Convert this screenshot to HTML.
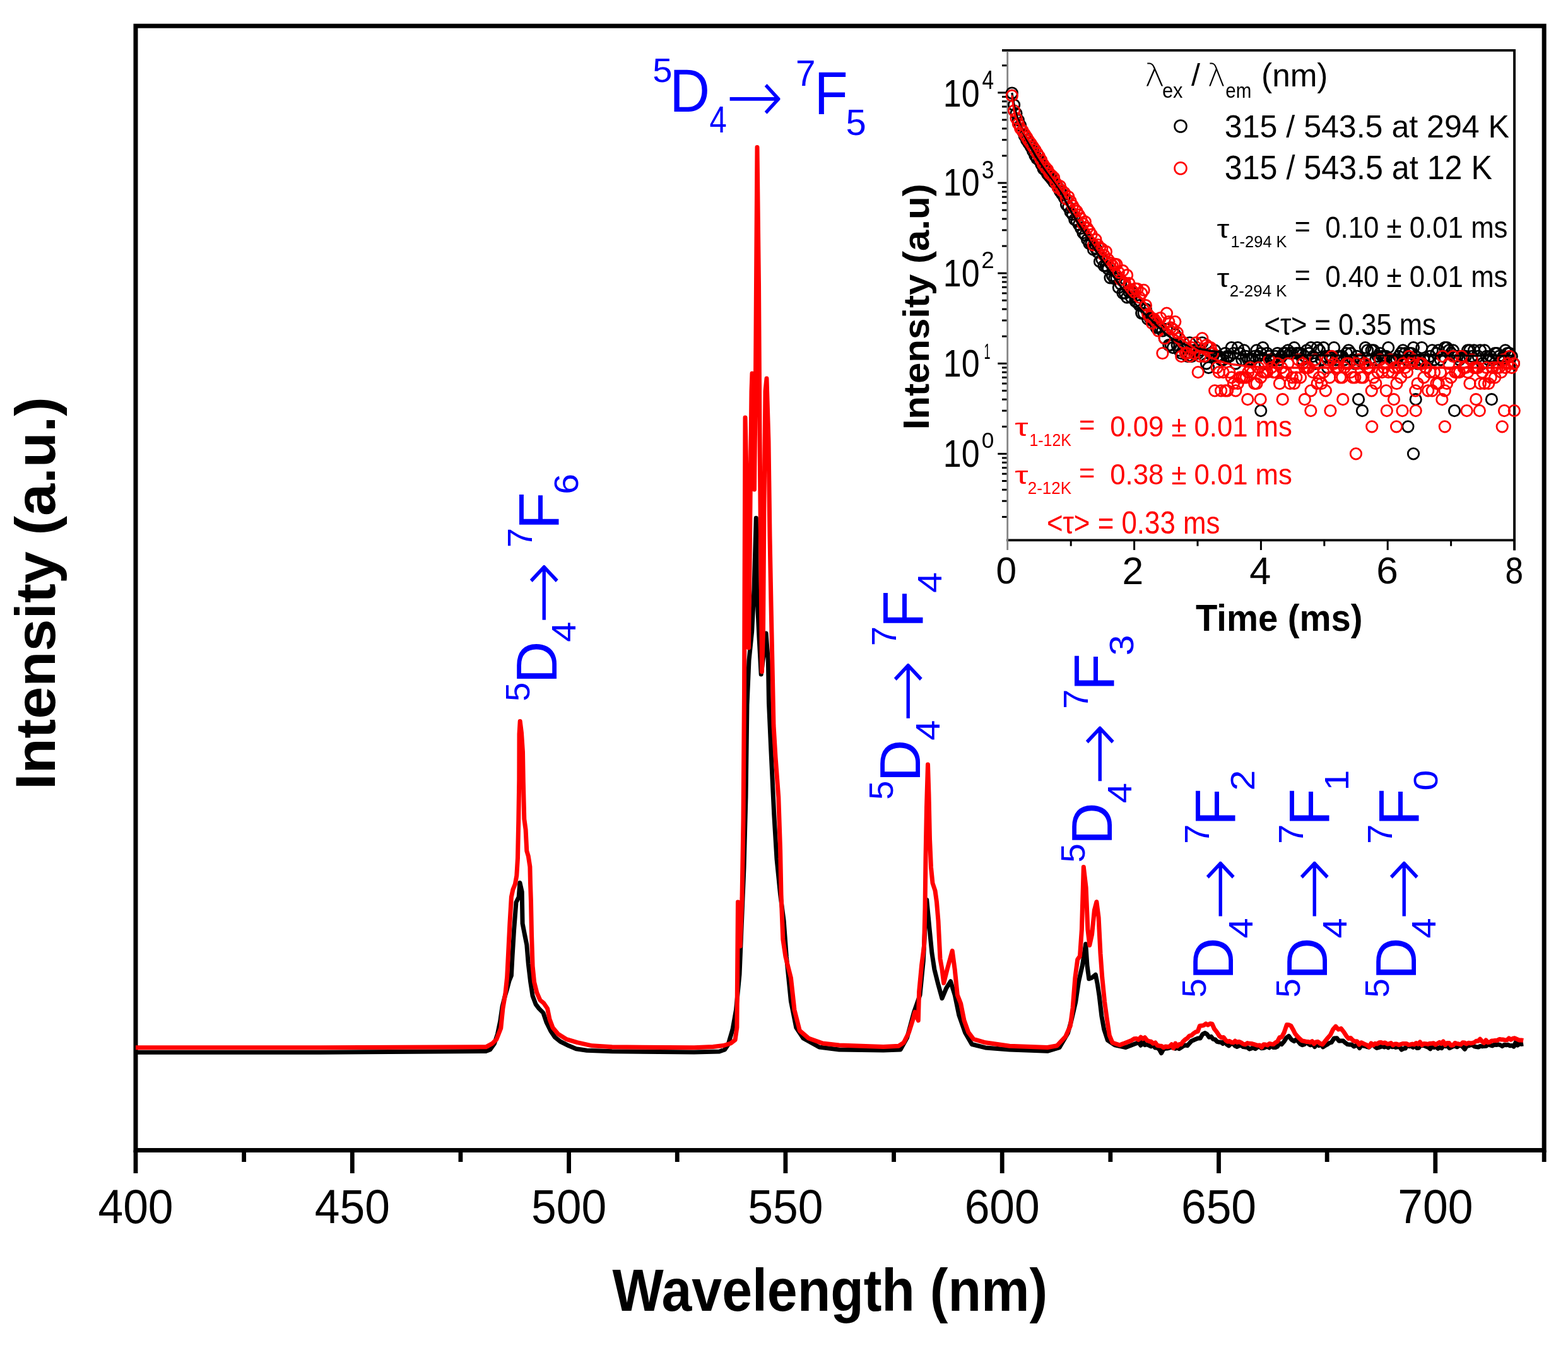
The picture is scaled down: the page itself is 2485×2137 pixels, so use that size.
<!DOCTYPE html>
<html><head><meta charset="utf-8"><title>Emission spectra</title>
<style>html,body{margin:0;padding:0;background:#fff;overflow:hidden}svg{display:block}</style>
</head><body>
<svg width="2485" height="2137" viewBox="0 0 2485 2137"><rect width="100%" height="100%" fill="#fff"/><rect x="215.0" y="41.15" width="2232.15" height="1782.35" fill="none" stroke="#000" stroke-width="7"/>
<line x1="215.00" y1="1823.5" x2="215.00" y2="1860" stroke="#000" stroke-width="6.8"/>
<line x1="386.65" y1="1823.5" x2="386.65" y2="1842" stroke="#000" stroke-width="6.8"/>
<line x1="558.30" y1="1823.5" x2="558.30" y2="1860" stroke="#000" stroke-width="6.8"/>
<line x1="729.95" y1="1823.5" x2="729.95" y2="1842" stroke="#000" stroke-width="6.8"/>
<line x1="901.60" y1="1823.5" x2="901.60" y2="1860" stroke="#000" stroke-width="6.8"/>
<line x1="1073.25" y1="1823.5" x2="1073.25" y2="1842" stroke="#000" stroke-width="6.8"/>
<line x1="1244.90" y1="1823.5" x2="1244.90" y2="1860" stroke="#000" stroke-width="6.8"/>
<line x1="1416.55" y1="1823.5" x2="1416.55" y2="1842" stroke="#000" stroke-width="6.8"/>
<line x1="1588.20" y1="1823.5" x2="1588.20" y2="1860" stroke="#000" stroke-width="6.8"/>
<line x1="1759.85" y1="1823.5" x2="1759.85" y2="1842" stroke="#000" stroke-width="6.8"/>
<line x1="1931.50" y1="1823.5" x2="1931.50" y2="1860" stroke="#000" stroke-width="6.8"/>
<line x1="2103.15" y1="1823.5" x2="2103.15" y2="1842" stroke="#000" stroke-width="6.8"/>
<line x1="2274.80" y1="1823.5" x2="2274.80" y2="1860" stroke="#000" stroke-width="6.8"/>
<line x1="2447.15" y1="1823.5" x2="2447.15" y2="1842" stroke="#000" stroke-width="6.8"/>
<text transform="translate(155.45 1938.70) scale(0.7140 0.7540)" font-family="'Liberation Sans', Arial, Helvetica, sans-serif" font-size="100" fill="#000">400</text>
<text transform="translate(498.75 1938.70) scale(0.7140 0.7540)" font-family="'Liberation Sans', Arial, Helvetica, sans-serif" font-size="100" fill="#000">450</text>
<text transform="translate(842.05 1938.70) scale(0.7140 0.7540)" font-family="'Liberation Sans', Arial, Helvetica, sans-serif" font-size="100" fill="#000">500</text>
<text transform="translate(1185.35 1938.70) scale(0.7140 0.7540)" font-family="'Liberation Sans', Arial, Helvetica, sans-serif" font-size="100" fill="#000">550</text>
<text transform="translate(1528.65 1938.70) scale(0.7140 0.7540)" font-family="'Liberation Sans', Arial, Helvetica, sans-serif" font-size="100" fill="#000">600</text>
<text transform="translate(1871.95 1938.70) scale(0.7140 0.7540)" font-family="'Liberation Sans', Arial, Helvetica, sans-serif" font-size="100" fill="#000">650</text>
<text transform="translate(2215.25 1938.70) scale(0.7140 0.7540)" font-family="'Liberation Sans', Arial, Helvetica, sans-serif" font-size="100" fill="#000">700</text>
<text transform="translate(970.53 2077.50) scale(0.8601 0.9506)" font-family="'Liberation Sans', Arial, Helvetica, sans-serif" font-weight="700" font-size="100" fill="#000">Wavelength (nm)</text>
<text transform="translate(87.10 1252.07) rotate(-90) scale(0.9193 0.8939)" font-family="'Liberation Sans', Arial, Helvetica, sans-serif" font-weight="700" font-size="100" fill="#000">Intensity (a.u.)</text>
<path d="M215.0 1668.3 L500.0 1668.3 L770.0 1666.5 L776.7 1664.0 L783.5 1654.4 L788.5 1639.3 L792.7 1619.0 L796.1 1595.5 L799.5 1582.0 L803.0 1570.0 L807.0 1555.0 L810.4 1546.7 L812.1 1514.7 L814.6 1474.3 L818.0 1430.5 L822.2 1422.0 L823.9 1399.4 L827.2 1413.7 L828.1 1464.2 L831.4 1481.0 L834.8 1497.8 L837.3 1528.1 L840.7 1556.8 L844.1 1578.7 L849.1 1592.1 L854.2 1598.9 L860.9 1605.6 L866.0 1620.7 L872.7 1634.2 L879.4 1644.3 L887.8 1651.0 L901.3 1657.8 L913.1 1662.8 L929.9 1665.3 L970.0 1666.7 L1100.0 1668.0 L1140.0 1667.0 L1148.5 1664.0 L1154.0 1656.0 L1161.0 1632.0 L1166.5 1601.0 L1172.0 1545.0 L1179.0 1376.0 L1182.0 1264.0 L1184.0 1117.0 L1187.0 1047.0 L1191.6 1002.0 L1195.0 935.0 L1198.3 821.3 L1199.5 935.0 L1203.0 1010.0 L1206.2 1069.0 L1210.0 1040.0 L1214.0 1004.0 L1217.4 1047.0 L1218.5 1114.0 L1221.5 1181.0 L1226.8 1292.0 L1231.0 1362.0 L1236.6 1418.0 L1242.2 1460.0 L1246.4 1517.0 L1253.4 1587.0 L1261.8 1629.0 L1273.1 1646.0 L1298.3 1660.0 L1330.0 1664.0 L1400.0 1665.0 L1427.0 1664.0 L1437.7 1644.7 L1448.5 1604.3 L1458.0 1577.4 L1463.3 1523.5 L1466.0 1469.5 L1468.7 1426.4 L1472.8 1469.5 L1476.8 1510.0 L1480.9 1536.9 L1486.3 1558.5 L1493.0 1582.7 L1499.7 1566.6 L1506.5 1555.8 L1513.2 1577.4 L1519.9 1609.7 L1529.4 1636.7 L1540.2 1655.5 L1561.7 1660.9 L1600.0 1664.0 L1660.0 1666.3 L1679.1 1660.6 L1692.4 1637.7 L1698.2 1616.7 L1704.8 1588.1 L1709.6 1555.6 L1715.3 1530.8 L1720.7 1496.5 L1723.0 1530.8 L1725.8 1551.8 L1730.6 1549.9 L1736.3 1545.2 L1739.2 1559.5 L1742.1 1578.5 L1745.9 1611.0 L1749.7 1632.0 L1755.4 1649.2 L1766.9 1656.8 L1784.0 1660.6 L1804.6 1652.4 L1807.9 1657.2 L1811.2 1650.1 L1814.4 1656.6 L1817.7 1655.9 L1821.0 1657.3 L1824.3 1658.9 L1827.6 1656.7 L1830.8 1661.1 L1834.1 1661.1 L1837.4 1663.8 L1840.5 1669.5 L1843.7 1663.6 L1846.8 1662.3 L1849.9 1662.1 L1853.1 1661.1 L1856.2 1660.2 L1859.4 1661.1 L1862.5 1662.3 L1865.6 1660.8 L1868.8 1662.6 L1871.9 1660.6 L1875.2 1658.4 L1878.5 1656.9 L1881.8 1657.7 L1885.0 1654.0 L1888.3 1650.3 L1891.6 1649.0 L1894.9 1647.4 L1898.6 1645.9 L1902.2 1646.0 L1905.9 1639.6 L1909.6 1637.6 L1912.9 1639.6 L1916.2 1644.3 L1919.5 1643.4 L1922.8 1647.4 L1925.8 1648.0 L1928.9 1651.3 L1931.9 1652.0 L1935.0 1652.3 L1938.0 1654.5 L1941.1 1649.3 L1944.1 1655.6 L1947.4 1657.9 L1950.7 1654.9 L1953.9 1654.1 L1957.2 1658.1 L1960.5 1659.4 L1963.8 1657.8 L1967.1 1657.2 L1970.3 1659.6 L1973.6 1660.0 L1976.9 1660.6 L1980.1 1663.1 L1983.2 1661.9 L1986.4 1660.9 L1989.5 1662.6 L1992.7 1660.2 L1995.9 1658.9 L1999.0 1661.7 L2002.2 1661.6 L2005.4 1660.2 L2008.5 1659.2 L2011.7 1661.0 L2014.8 1656.1 L2018.0 1660.6 L2021.3 1660.6 L2024.5 1659.0 L2027.8 1653.9 L2031.1 1655.6 L2034.9 1651.3 L2038.8 1645.1 L2042.6 1642.5 L2046.7 1648.0 L2050.8 1650.7 L2054.1 1648.0 L2057.4 1651.0 L2060.6 1654.9 L2063.9 1656.7 L2067.2 1655.6 L2070.5 1651.9 L2073.8 1655.1 L2077.0 1656.8 L2080.3 1655.3 L2083.6 1659.5 L2086.9 1654.7 L2090.2 1657.6 L2093.4 1655.3 L2096.7 1659.9 L2100.0 1657.6 L2103.4 1655.9 L2106.7 1653.5 L2110.1 1652.5 L2114.3 1646.0 L2118.6 1645.7 L2122.0 1650.2 L2125.3 1649.9 L2128.7 1650.0 L2132.1 1653.2 L2135.5 1655.6 L2138.8 1656.0 L2142.2 1656.0 L2145.6 1659.0 L2148.6 1657.6 L2151.7 1657.6 L2154.7 1661.5 L2157.7 1656.5 L2160.7 1658.0 L2163.8 1658.5 L2166.8 1659.6 L2169.8 1660.2 L2172.8 1656.9 L2175.8 1656.1 L2178.9 1659.2 L2181.9 1661.4 L2184.9 1660.6 L2187.9 1659.7 L2191.0 1658.7 L2194.0 1659.9 L2197.0 1658.9 L2200.0 1660.8 L2203.1 1658.0 L2206.1 1659.7 L2209.1 1659.2 L2212.1 1660.4 L2215.2 1659.9 L2218.2 1659.5 L2221.2 1664.1 L2224.3 1662.2 L2227.3 1662.1 L2230.3 1655.8 L2233.4 1658.8 L2236.4 1658.3 L2239.4 1660.3 L2242.5 1655.3 L2245.5 1661.5 L2248.5 1661.2 L2251.6 1657.0 L2254.6 1657.5 L2257.6 1657.8 L2260.7 1659.3 L2263.7 1660.4 L2266.7 1662.9 L2269.8 1658.8 L2272.8 1660.6 L2275.8 1659.4 L2278.9 1662.3 L2281.9 1660.5 L2284.9 1661.6 L2288.0 1657.1 L2291.0 1658.7 L2294.0 1657.6 L2297.1 1661.7 L2300.1 1660.2 L2303.1 1658.4 L2306.2 1658.2 L2309.2 1659.8 L2312.2 1657.7 L2315.3 1657.3 L2318.3 1659.8 L2321.3 1663.3 L2324.4 1658.4 L2327.4 1657.9 L2330.4 1656.7 L2333.5 1656.4 L2336.5 1658.8 L2339.7 1659.6 L2342.8 1660.1 L2346.0 1658.4 L2349.2 1658.9 L2352.3 1658.4 L2355.5 1658.3 L2358.7 1655.2 L2361.8 1657.0 L2365.0 1657.9 L2368.2 1656.1 L2371.4 1656.6 L2374.5 1655.8 L2377.7 1656.6 L2380.9 1658.6 L2384.0 1656.2 L2387.2 1656.8 L2390.2 1656.3 L2393.2 1657.9 L2396.2 1657.4 L2399.2 1659.1 L2402.2 1652.0 L2405.2 1657.1 L2408.2 1654.5 L2411.2 1655.4 L2414.2 1655.0" fill="none" stroke="#000" stroke-width="7" stroke-linejoin="round" stroke-linecap="butt"/>
<path d="M215.0 1660.8 L500.0 1660.8 L770.0 1659.8 L780.1 1654.4 L786.8 1647.7 L793.8 1630.0 L796.9 1598.9 L801.1 1573.6 L803.7 1548.4 L805.4 1514.7 L807.9 1464.2 L810.4 1422.0 L812.9 1410.3 L816.3 1401.9 L818.8 1388.4 L820.5 1360.0 L821.8 1300.0 L822.8 1236.0 L823.0 1163.7 L824.2 1143.5 L826.5 1162.0 L828.5 1192.3 L829.3 1239.4 L830.8 1298.4 L833.1 1315.2 L834.8 1348.9 L837.3 1357.3 L839.9 1374.1 L840.5 1400.0 L841.5 1430.0 L842.5 1481.0 L844.1 1531.5 L846.6 1556.8 L850.8 1573.6 L855.9 1585.4 L861.8 1590.4 L867.6 1598.9 L871.0 1615.7 L876.1 1629.2 L884.5 1639.3 L898.0 1647.7 L914.8 1652.7 L938.4 1657.8 L970.0 1659.8 L1100.0 1660.8 L1130.0 1659.5 L1146.8 1657.5 L1158.0 1654.0 L1165.1 1648.4 L1167.9 1628.8 L1169.5 1430.0 L1173.0 1500.0 L1176.0 1424.0 L1178.0 1300.0 L1179.5 1100.0 L1180.5 800.0 L1181.0 662.0 L1183.0 750.0 L1185.0 900.0 L1186.5 1027.0 L1188.0 900.0 L1189.5 750.0 L1191.0 620.0 L1192.0 592.0 L1194.0 680.0 L1195.5 776.0 L1197.5 600.0 L1200.0 233.5 L1202.5 450.0 L1204.0 687.0 L1205.5 850.0 L1207.5 1065.0 L1209.5 1000.0 L1211.0 800.0 L1213.0 620.0 L1215.0 600.0 L1218.0 700.0 L1220.0 850.0 L1222.0 957.0 L1226.0 1150.0 L1229.0 1200.0 L1233.8 1264.0 L1236.6 1348.0 L1238.0 1418.0 L1240.8 1489.0 L1245.0 1517.0 L1253.4 1550.0 L1259.0 1601.0 L1267.4 1634.0 L1281.5 1646.0 L1303.9 1654.0 L1330.0 1657.0 L1400.0 1659.6 L1424.3 1658.2 L1432.3 1652.8 L1440.4 1636.7 L1447.2 1615.1 L1449.9 1604.3 L1455.3 1617.8 L1456.6 1572.0 L1460.6 1530.0 L1464.5 1500.0 L1466.0 1440.0 L1467.0 1360.0 L1468.5 1280.0 L1470.5 1212.0 L1472.0 1260.0 L1473.5 1330.0 L1475.5 1375.0 L1478.0 1400.0 L1482.0 1412.0 L1484.5 1430.0 L1487.0 1460.0 L1490.0 1520.0 L1493.0 1537.0 L1495.7 1558.5 L1501.1 1536.9 L1509.2 1507.3 L1513.2 1536.9 L1517.3 1577.4 L1522.6 1590.8 L1528.0 1617.8 L1534.8 1636.7 L1542.9 1647.4 L1561.7 1652.8 L1600.0 1658.2 L1660.0 1660.5 L1675.3 1657.7 L1688.6 1643.4 L1696.3 1626.3 L1700.1 1597.6 L1703.9 1549.9 L1707.7 1521.3 L1711.5 1515.6 L1714.4 1473.6 L1717.3 1374.4 L1721.1 1406.8 L1723.9 1473.6 L1726.8 1498.4 L1730.6 1481.2 L1734.4 1443.0 L1737.9 1429.7 L1741.1 1454.5 L1744.0 1511.8 L1746.8 1549.9 L1750.6 1588.1 L1754.5 1616.7 L1758.3 1641.5 L1763.1 1653.0 L1774.5 1656.8 L1793.6 1649.2 L1797.2 1646.8 L1800.8 1646.4 L1804.3 1648.3 L1807.9 1644.2 L1811.2 1646.9 L1814.5 1644.7 L1817.7 1649.1 L1821.0 1650.7 L1824.3 1651.3 L1827.6 1654.3 L1830.9 1652.9 L1834.2 1657.3 L1837.5 1658.0 L1840.7 1658.2 L1844.0 1660.8 L1847.3 1658.9 L1850.5 1659.5 L1853.8 1658.9 L1856.8 1655.8 L1859.8 1661.6 L1862.8 1654.0 L1865.9 1658.6 L1868.9 1655.6 L1871.9 1655.6 L1875.2 1650.8 L1878.4 1648.0 L1881.7 1645.8 L1885.0 1642.2 L1888.3 1641.5 L1891.6 1638.3 L1894.9 1636.0 L1898.2 1635.2 L1901.4 1626.3 L1904.7 1626.1 L1908.0 1625.3 L1911.2 1622.9 L1914.5 1624.9 L1917.8 1622.8 L1921.1 1623.3 L1924.4 1631.0 L1928.5 1636.2 L1932.6 1642.5 L1935.9 1645.1 L1939.2 1644.4 L1942.5 1649.1 L1945.5 1651.3 L1948.5 1650.5 L1951.5 1652.5 L1954.5 1652.9 L1957.5 1650.2 L1960.5 1652.4 L1963.8 1651.5 L1967.1 1653.0 L1970.3 1655.1 L1973.6 1655.8 L1976.9 1653.6 L1980.2 1654.3 L1983.5 1654.5 L1986.7 1655.3 L1990.0 1656.4 L1993.3 1657.3 L1996.4 1656.9 L1999.5 1660.4 L2002.6 1655.8 L2005.7 1656.0 L2008.7 1657.0 L2011.8 1654.4 L2014.9 1655.2 L2018.0 1655.6 L2021.3 1652.8 L2024.5 1651.2 L2027.8 1644.8 L2031.1 1644.2 L2035.2 1636.7 L2039.3 1624.5 L2042.5 1624.7 L2045.8 1626.1 L2049.1 1631.9 L2052.4 1638.5 L2055.7 1642.5 L2059.5 1646.4 L2063.4 1649.8 L2067.2 1650.7 L2070.3 1651.4 L2073.3 1651.5 L2076.4 1652.5 L2079.5 1650.7 L2082.6 1654.8 L2085.7 1651.9 L2088.7 1651.4 L2091.8 1654.0 L2095.9 1655.9 L2100.0 1650.8 L2104.2 1645.5 L2108.4 1640.7 L2112.7 1631.9 L2116.9 1627.2 L2121.1 1632.0 L2125.3 1630.5 L2129.6 1635.9 L2133.8 1642.4 L2137.2 1646.4 L2140.5 1645.5 L2143.9 1649.1 L2147.3 1651.0 L2150.7 1650.8 L2154.1 1656.0 L2157.3 1652.7 L2160.4 1654.2 L2163.6 1655.6 L2166.7 1657.0 L2169.9 1659.7 L2173.0 1653.8 L2176.2 1657.2 L2179.3 1654.3 L2182.5 1655.0 L2185.6 1652.7 L2188.8 1652.6 L2191.9 1653.7 L2195.1 1652.9 L2198.2 1654.9 L2201.4 1654.8 L2204.5 1653.6 L2207.5 1656.9 L2210.6 1655.0 L2213.7 1655.0 L2216.7 1656.6 L2219.8 1655.5 L2222.9 1654.6 L2225.9 1654.5 L2229.0 1654.4 L2232.1 1656.4 L2235.2 1655.9 L2238.2 1655.1 L2241.3 1655.9 L2244.4 1653.6 L2247.4 1655.3 L2250.5 1652.0 L2253.6 1656.7 L2256.6 1654.5 L2259.7 1654.7 L2262.8 1655.4 L2265.8 1654.3 L2268.9 1654.3 L2272.0 1653.8 L2275.0 1656.2 L2278.1 1654.3 L2281.2 1652.4 L2284.3 1654.6 L2287.3 1650.9 L2290.4 1656.5 L2293.5 1653.4 L2296.6 1653.6 L2299.6 1657.3 L2302.7 1657.1 L2305.8 1653.5 L2308.8 1654.3 L2311.9 1655.0 L2315.0 1655.9 L2318.1 1652.8 L2321.1 1653.1 L2324.2 1654.9 L2327.3 1653.2 L2330.4 1653.9 L2333.4 1653.6 L2336.5 1652.5 L2339.6 1650.3 L2342.6 1650.5 L2345.7 1647.2 L2348.8 1651.0 L2351.9 1653.4 L2354.9 1649.0 L2358.0 1652.7 L2361.1 1652.0 L2364.2 1650.0 L2367.2 1649.8 L2370.3 1649.5 L2373.3 1649.3 L2376.3 1647.4 L2379.3 1648.0 L2382.3 1648.1 L2385.3 1648.9 L2388.3 1648.8 L2391.3 1645.9 L2394.3 1648.2 L2397.3 1646.5 L2400.7 1645.8 L2404.1 1647.4 L2407.4 1648.9 L2410.8 1648.9 L2414.2 1649.5" fill="none" stroke="#f00" stroke-width="7" stroke-linejoin="round" stroke-linecap="butt"/>
<text transform="translate(1034.26 129.86) scale(0.5612 0.5387)" font-family="'Liberation Sans', Arial, Helvetica, sans-serif" font-size="100" fill="#0000ff">5</text>
<text transform="translate(1061.36 177.20) scale(0.8834 0.9593)" font-family="'Liberation Sans', Arial, Helvetica, sans-serif" font-size="100" fill="#0000ff">D</text>
<text transform="translate(1124.42 210.20) scale(0.4901 0.5858)" font-family="'Liberation Sans', Arial, Helvetica, sans-serif" font-size="100" fill="#0000ff">4</text>
<text transform="translate(1150.28 194.19) scale(1.0902 1.1866)" font-family="'DejaVu Sans', 'Liberation Sans', sans-serif" font-weight="200" font-size="100" fill="#0000ff">→</text>
<text transform="translate(1260.96 135.90) scale(0.5661 0.5727)" font-family="'Liberation Sans', Arial, Helvetica, sans-serif" font-size="100" fill="#0000ff">7</text>
<text transform="translate(1290.71 180.90) scale(0.8648 0.9608)" font-family="'Liberation Sans', Arial, Helvetica, sans-serif" font-size="100" fill="#0000ff">F</text>
<text transform="translate(1340.48 214.22) scale(0.5802 0.5788)" font-family="'Liberation Sans', Arial, Helvetica, sans-serif" font-size="100" fill="#0000ff">5</text>
<text transform="translate(838.77 1111.88) rotate(-90) scale(0.5443 0.5301)" font-family="'Liberation Sans', Arial, Helvetica, sans-serif" font-size="100" fill="#0000ff">5</text>
<text transform="translate(881.50 1083.62) rotate(-90) scale(0.9291 0.9070)" font-family="'Liberation Sans', Arial, Helvetica, sans-serif" font-size="100" fill="#0000ff">D</text>
<text transform="translate(912.30 1017.77) rotate(-90) scale(0.5794 0.5451)" font-family="'Liberation Sans', Arial, Helvetica, sans-serif" font-size="100" fill="#0000ff">4</text>
<text transform="translate(897.15 989.68) rotate(-90) scale(1.1858 1.1119)" font-family="'DejaVu Sans', 'Liberation Sans', sans-serif" font-weight="200" font-size="100" fill="#0000ff">→</text>
<text transform="translate(843.40 868.32) rotate(-90) scale(0.5617 0.5480)" font-family="'Liberation Sans', Arial, Helvetica, sans-serif" font-size="100" fill="#0000ff">7</text>
<text transform="translate(884.90 839.80) rotate(-90) scale(0.9754 0.9012)" font-family="'Liberation Sans', Arial, Helvetica, sans-serif" font-size="100" fill="#0000ff">F</text>
<text transform="translate(915.70 783.75) rotate(-90) scale(0.5899 0.5315)" font-family="'Liberation Sans', Arial, Helvetica, sans-serif" font-size="100" fill="#0000ff">6</text>
<text transform="translate(1415.37 1267.88) rotate(-90) scale(0.5443 0.5301)" font-family="'Liberation Sans', Arial, Helvetica, sans-serif" font-size="100" fill="#0000ff">5</text>
<text transform="translate(1458.10 1239.62) rotate(-90) scale(0.9291 0.9070)" font-family="'Liberation Sans', Arial, Helvetica, sans-serif" font-size="100" fill="#0000ff">D</text>
<text transform="translate(1488.90 1173.77) rotate(-90) scale(0.5794 0.5451)" font-family="'Liberation Sans', Arial, Helvetica, sans-serif" font-size="100" fill="#0000ff">4</text>
<text transform="translate(1473.75 1145.68) rotate(-90) scale(1.1858 1.1119)" font-family="'DejaVu Sans', 'Liberation Sans', sans-serif" font-weight="200" font-size="100" fill="#0000ff">→</text>
<text transform="translate(1420.00 1024.32) rotate(-90) scale(0.5617 0.5480)" font-family="'Liberation Sans', Arial, Helvetica, sans-serif" font-size="100" fill="#0000ff">7</text>
<text transform="translate(1461.50 995.80) rotate(-90) scale(0.9754 0.9012)" font-family="'Liberation Sans', Arial, Helvetica, sans-serif" font-size="100" fill="#0000ff">F</text>
<text transform="translate(1492.30 939.75) rotate(-90) scale(0.5899 0.5315)" font-family="'Liberation Sans', Arial, Helvetica, sans-serif" font-size="100" fill="#0000ff">4</text>
<text transform="translate(1719.17 1367.48) rotate(-90) scale(0.5443 0.5301)" font-family="'Liberation Sans', Arial, Helvetica, sans-serif" font-size="100" fill="#0000ff">5</text>
<text transform="translate(1761.90 1339.22) rotate(-90) scale(0.9291 0.9070)" font-family="'Liberation Sans', Arial, Helvetica, sans-serif" font-size="100" fill="#0000ff">D</text>
<text transform="translate(1792.70 1273.37) rotate(-90) scale(0.5794 0.5451)" font-family="'Liberation Sans', Arial, Helvetica, sans-serif" font-size="100" fill="#0000ff">4</text>
<text transform="translate(1777.55 1245.28) rotate(-90) scale(1.1858 1.1119)" font-family="'DejaVu Sans', 'Liberation Sans', sans-serif" font-weight="200" font-size="100" fill="#0000ff">→</text>
<text transform="translate(1723.80 1123.92) rotate(-90) scale(0.5617 0.5480)" font-family="'Liberation Sans', Arial, Helvetica, sans-serif" font-size="100" fill="#0000ff">7</text>
<text transform="translate(1765.30 1095.40) rotate(-90) scale(0.9754 0.9012)" font-family="'Liberation Sans', Arial, Helvetica, sans-serif" font-size="100" fill="#0000ff">F</text>
<text transform="translate(1796.10 1039.35) rotate(-90) scale(0.5899 0.5315)" font-family="'Liberation Sans', Arial, Helvetica, sans-serif" font-size="100" fill="#0000ff">3</text>
<text transform="translate(1911.07 1581.58) rotate(-90) scale(0.5443 0.5301)" font-family="'Liberation Sans', Arial, Helvetica, sans-serif" font-size="100" fill="#0000ff">5</text>
<text transform="translate(1953.80 1553.32) rotate(-90) scale(0.9291 0.9070)" font-family="'Liberation Sans', Arial, Helvetica, sans-serif" font-size="100" fill="#0000ff">D</text>
<text transform="translate(1984.60 1487.47) rotate(-90) scale(0.5794 0.5451)" font-family="'Liberation Sans', Arial, Helvetica, sans-serif" font-size="100" fill="#0000ff">4</text>
<text transform="translate(1969.45 1459.38) rotate(-90) scale(1.1858 1.1119)" font-family="'DejaVu Sans', 'Liberation Sans', sans-serif" font-weight="200" font-size="100" fill="#0000ff">→</text>
<text transform="translate(1915.70 1338.02) rotate(-90) scale(0.5617 0.5480)" font-family="'Liberation Sans', Arial, Helvetica, sans-serif" font-size="100" fill="#0000ff">7</text>
<text transform="translate(1957.20 1309.50) rotate(-90) scale(0.9754 0.9012)" font-family="'Liberation Sans', Arial, Helvetica, sans-serif" font-size="100" fill="#0000ff">F</text>
<text transform="translate(1988.00 1253.45) rotate(-90) scale(0.5899 0.5315)" font-family="'Liberation Sans', Arial, Helvetica, sans-serif" font-size="100" fill="#0000ff">2</text>
<text transform="translate(2059.97 1581.58) rotate(-90) scale(0.5443 0.5301)" font-family="'Liberation Sans', Arial, Helvetica, sans-serif" font-size="100" fill="#0000ff">5</text>
<text transform="translate(2102.70 1553.32) rotate(-90) scale(0.9291 0.9070)" font-family="'Liberation Sans', Arial, Helvetica, sans-serif" font-size="100" fill="#0000ff">D</text>
<text transform="translate(2133.50 1487.47) rotate(-90) scale(0.5794 0.5451)" font-family="'Liberation Sans', Arial, Helvetica, sans-serif" font-size="100" fill="#0000ff">4</text>
<text transform="translate(2118.35 1459.38) rotate(-90) scale(1.1858 1.1119)" font-family="'DejaVu Sans', 'Liberation Sans', sans-serif" font-weight="200" font-size="100" fill="#0000ff">→</text>
<text transform="translate(2064.60 1338.02) rotate(-90) scale(0.5617 0.5480)" font-family="'Liberation Sans', Arial, Helvetica, sans-serif" font-size="100" fill="#0000ff">7</text>
<text transform="translate(2106.10 1309.50) rotate(-90) scale(0.9754 0.9012)" font-family="'Liberation Sans', Arial, Helvetica, sans-serif" font-size="100" fill="#0000ff">F</text>
<text transform="translate(2136.90 1253.45) rotate(-90) scale(0.5899 0.5315)" font-family="'Liberation Sans', Arial, Helvetica, sans-serif" font-size="100" fill="#0000ff">1</text>
<text transform="translate(2201.37 1581.58) rotate(-90) scale(0.5443 0.5301)" font-family="'Liberation Sans', Arial, Helvetica, sans-serif" font-size="100" fill="#0000ff">5</text>
<text transform="translate(2244.10 1553.32) rotate(-90) scale(0.9291 0.9070)" font-family="'Liberation Sans', Arial, Helvetica, sans-serif" font-size="100" fill="#0000ff">D</text>
<text transform="translate(2274.90 1487.47) rotate(-90) scale(0.5794 0.5451)" font-family="'Liberation Sans', Arial, Helvetica, sans-serif" font-size="100" fill="#0000ff">4</text>
<text transform="translate(2259.75 1459.38) rotate(-90) scale(1.1858 1.1119)" font-family="'DejaVu Sans', 'Liberation Sans', sans-serif" font-weight="200" font-size="100" fill="#0000ff">→</text>
<text transform="translate(2206.00 1338.02) rotate(-90) scale(0.5617 0.5480)" font-family="'Liberation Sans', Arial, Helvetica, sans-serif" font-size="100" fill="#0000ff">7</text>
<text transform="translate(2247.50 1309.50) rotate(-90) scale(0.9754 0.9012)" font-family="'Liberation Sans', Arial, Helvetica, sans-serif" font-size="100" fill="#0000ff">F</text>
<text transform="translate(2278.30 1253.45) rotate(-90) scale(0.5899 0.5315)" font-family="'Liberation Sans', Arial, Helvetica, sans-serif" font-size="100" fill="#0000ff">0</text>
<line x1="1588" y1="819.44" x2="1596.7" y2="819.44" stroke="#000" stroke-width="3"/>
<line x1="1588" y1="794.24" x2="1596.7" y2="794.24" stroke="#000" stroke-width="3"/>
<line x1="1588" y1="776.36" x2="1596.7" y2="776.36" stroke="#000" stroke-width="3"/>
<line x1="1588" y1="762.49" x2="1596.7" y2="762.49" stroke="#000" stroke-width="3"/>
<line x1="1588" y1="751.15" x2="1596.7" y2="751.15" stroke="#000" stroke-width="3"/>
<line x1="1588" y1="741.57" x2="1596.7" y2="741.57" stroke="#000" stroke-width="3"/>
<line x1="1588" y1="733.27" x2="1596.7" y2="733.27" stroke="#000" stroke-width="3"/>
<line x1="1588" y1="725.95" x2="1596.7" y2="725.95" stroke="#000" stroke-width="3"/>
<line x1="1581.3" y1="719.40" x2="1596.7" y2="719.40" stroke="#000" stroke-width="3"/>
<line x1="1588" y1="676.31" x2="1596.7" y2="676.31" stroke="#000" stroke-width="3"/>
<line x1="1588" y1="651.11" x2="1596.7" y2="651.11" stroke="#000" stroke-width="3"/>
<line x1="1588" y1="633.23" x2="1596.7" y2="633.23" stroke="#000" stroke-width="3"/>
<line x1="1588" y1="619.36" x2="1596.7" y2="619.36" stroke="#000" stroke-width="3"/>
<line x1="1588" y1="608.02" x2="1596.7" y2="608.02" stroke="#000" stroke-width="3"/>
<line x1="1588" y1="598.44" x2="1596.7" y2="598.44" stroke="#000" stroke-width="3"/>
<line x1="1588" y1="590.14" x2="1596.7" y2="590.14" stroke="#000" stroke-width="3"/>
<line x1="1588" y1="582.82" x2="1596.7" y2="582.82" stroke="#000" stroke-width="3"/>
<line x1="1581.3" y1="576.27" x2="1596.7" y2="576.27" stroke="#000" stroke-width="3"/>
<line x1="1588" y1="533.18" x2="1596.7" y2="533.18" stroke="#000" stroke-width="3"/>
<line x1="1588" y1="507.98" x2="1596.7" y2="507.98" stroke="#000" stroke-width="3"/>
<line x1="1588" y1="490.10" x2="1596.7" y2="490.10" stroke="#000" stroke-width="3"/>
<line x1="1588" y1="476.23" x2="1596.7" y2="476.23" stroke="#000" stroke-width="3"/>
<line x1="1588" y1="464.89" x2="1596.7" y2="464.89" stroke="#000" stroke-width="3"/>
<line x1="1588" y1="455.31" x2="1596.7" y2="455.31" stroke="#000" stroke-width="3"/>
<line x1="1588" y1="447.01" x2="1596.7" y2="447.01" stroke="#000" stroke-width="3"/>
<line x1="1588" y1="439.69" x2="1596.7" y2="439.69" stroke="#000" stroke-width="3"/>
<line x1="1581.3" y1="433.14" x2="1596.7" y2="433.14" stroke="#000" stroke-width="3"/>
<line x1="1588" y1="390.05" x2="1596.7" y2="390.05" stroke="#000" stroke-width="3"/>
<line x1="1588" y1="364.85" x2="1596.7" y2="364.85" stroke="#000" stroke-width="3"/>
<line x1="1588" y1="346.97" x2="1596.7" y2="346.97" stroke="#000" stroke-width="3"/>
<line x1="1588" y1="333.10" x2="1596.7" y2="333.10" stroke="#000" stroke-width="3"/>
<line x1="1588" y1="321.76" x2="1596.7" y2="321.76" stroke="#000" stroke-width="3"/>
<line x1="1588" y1="312.18" x2="1596.7" y2="312.18" stroke="#000" stroke-width="3"/>
<line x1="1588" y1="303.88" x2="1596.7" y2="303.88" stroke="#000" stroke-width="3"/>
<line x1="1588" y1="296.56" x2="1596.7" y2="296.56" stroke="#000" stroke-width="3"/>
<line x1="1581.3" y1="290.01" x2="1596.7" y2="290.01" stroke="#000" stroke-width="3"/>
<line x1="1588" y1="246.92" x2="1596.7" y2="246.92" stroke="#000" stroke-width="3"/>
<line x1="1588" y1="221.72" x2="1596.7" y2="221.72" stroke="#000" stroke-width="3"/>
<line x1="1588" y1="203.84" x2="1596.7" y2="203.84" stroke="#000" stroke-width="3"/>
<line x1="1588" y1="189.97" x2="1596.7" y2="189.97" stroke="#000" stroke-width="3"/>
<line x1="1588" y1="178.63" x2="1596.7" y2="178.63" stroke="#000" stroke-width="3"/>
<line x1="1588" y1="169.05" x2="1596.7" y2="169.05" stroke="#000" stroke-width="3"/>
<line x1="1588" y1="160.75" x2="1596.7" y2="160.75" stroke="#000" stroke-width="3"/>
<line x1="1588" y1="153.43" x2="1596.7" y2="153.43" stroke="#000" stroke-width="3"/>
<line x1="1581.3" y1="146.88" x2="1596.7" y2="146.88" stroke="#000" stroke-width="3"/>
<line x1="1588" y1="103.79" x2="1596.7" y2="103.79" stroke="#000" stroke-width="3"/>
<line x1="1697.20" y1="856.3" x2="1697.20" y2="865.7" stroke="#000" stroke-width="3"/>
<line x1="1797.60" y1="856.3" x2="1797.60" y2="872" stroke="#000" stroke-width="3"/>
<line x1="1898.00" y1="856.3" x2="1898.00" y2="865.7" stroke="#000" stroke-width="3"/>
<line x1="1998.40" y1="856.3" x2="1998.40" y2="872" stroke="#000" stroke-width="3"/>
<line x1="2098.80" y1="856.3" x2="2098.80" y2="865.7" stroke="#000" stroke-width="3"/>
<line x1="2199.20" y1="856.3" x2="2199.20" y2="872" stroke="#000" stroke-width="3"/>
<line x1="2299.60" y1="856.3" x2="2299.60" y2="865.7" stroke="#000" stroke-width="3"/>
<line x1="1588" y1="79.95" x2="2402" y2="79.95" stroke="#000" stroke-width="3.8"/>
<line x1="2400.05" y1="78" x2="2400.05" y2="872.6" stroke="#000" stroke-width="3.9"/>
<line x1="1595" y1="856.3" x2="2402" y2="856.3" stroke="#000" stroke-width="3.8"/>
<line x1="1596.7" y1="81.5" x2="1596.7" y2="872" stroke="#858585" stroke-width="2.8"/>
<text transform="translate(1494.75 168.88) scale(0.5200 0.6158)" font-family="'Liberation Sans', Arial, Helvetica, sans-serif" font-size="100" fill="#000">10</text>
<text transform="translate(1556.47 140.80) scale(0.3333 0.4215)" font-family="'Liberation Sans', Arial, Helvetica, sans-serif" font-size="100" fill="#000">4</text>
<text transform="translate(1494.75 310.28) scale(0.5200 0.6158)" font-family="'Liberation Sans', Arial, Helvetica, sans-serif" font-size="100" fill="#000">10</text>
<text transform="translate(1555.85 283.40) scale(0.3544 0.3997)" font-family="'Liberation Sans', Arial, Helvetica, sans-serif" font-size="100" fill="#000">3</text>
<text transform="translate(1494.75 453.98) scale(0.5200 0.6158)" font-family="'Liberation Sans', Arial, Helvetica, sans-serif" font-size="100" fill="#000">10</text>
<text transform="translate(1555.36 425.20) scale(0.3684 0.3711)" font-family="'Liberation Sans', Arial, Helvetica, sans-serif" font-size="100" fill="#000">2</text>
<text transform="translate(1494.75 597.20) scale(0.5200 0.6017)" font-family="'Liberation Sans', Arial, Helvetica, sans-serif" font-size="100" fill="#000">10</text>
<text transform="translate(1559.43 568.60) scale(0.1806 0.3576)" font-family="'Liberation Sans', Arial, Helvetica, sans-serif" font-size="100" fill="#000">1</text>
<text transform="translate(1494.75 739.68) scale(0.5200 0.6172)" font-family="'Liberation Sans', Arial, Helvetica, sans-serif" font-size="100" fill="#000">10</text>
<text transform="translate(1555.79 709.65) scale(0.3515 0.3489)" font-family="'Liberation Sans', Arial, Helvetica, sans-serif" font-size="100" fill="#000">0</text>
<text transform="translate(1578.46 924.90) scale(0.5858 0.6003)" font-family="'Liberation Sans', Arial, Helvetica, sans-serif" font-size="100" fill="#000">0</text>
<text transform="translate(1778.47 925.50) scale(0.6053 0.6089)" font-family="'Liberation Sans', Arial, Helvetica, sans-serif" font-size="100" fill="#000">2</text>
<text transform="translate(1980.26 925.50) scale(0.6111 0.6177)" font-family="'Liberation Sans', Arial, Helvetica, sans-serif" font-size="100" fill="#000">4</text>
<text transform="translate(2181.29 924.90) scale(0.6212 0.6003)" font-family="'Liberation Sans', Arial, Helvetica, sans-serif" font-size="100" fill="#000">6</text>
<text transform="translate(2385.44 924.90) scale(0.5128 0.6003)" font-family="'Liberation Sans', Arial, Helvetica, sans-serif" font-size="100" fill="#000">8</text>
<text transform="translate(1894.93 999.79) scale(0.5624 0.5869)" font-family="'Liberation Sans', Arial, Helvetica, sans-serif" font-weight="700" font-size="100" fill="#000">Time (ms)</text>
<text transform="translate(1471.60 681.36) rotate(-90) scale(0.6001 0.5815)" font-family="'Liberation Sans', Arial, Helvetica, sans-serif" font-weight="700" font-size="100" fill="#000">Intensity (a.u)</text>
<text transform="translate(1814.08 136.30) scale(0.5413 0.4932)" font-family="'DejaVu Sans', 'Liberation Sans', sans-serif" font-weight="200" font-size="100" fill="#000">λ</text>
<text transform="translate(1841.90 154.58) scale(0.3084 0.3248)" font-family="'Liberation Sans', Arial, Helvetica, sans-serif" font-size="100" fill="#000">ex</text>
<text transform="translate(1888.00 135.81) scale(0.5036 0.4946)" font-family="'Liberation Sans', Arial, Helvetica, sans-serif" font-size="100" fill="#000">/</text>
<text transform="translate(1913.46 136.30) scale(0.4897 0.4932)" font-family="'DejaVu Sans', 'Liberation Sans', sans-serif" font-weight="200" font-size="100" fill="#000">λ</text>
<text transform="translate(1942.36 155.26) scale(0.2956 0.3376)" font-family="'Liberation Sans', Arial, Helvetica, sans-serif" font-size="100" fill="#000">em</text>
<text transform="translate(1999.12 137.21) scale(0.5124 0.5139)" font-family="'Liberation Sans', Arial, Helvetica, sans-serif" font-size="100" fill="#000">(nm)</text>
<circle cx="1871" cy="200" r="9.45" fill="none" stroke="#000" stroke-width="2.7"/>
<circle cx="1871" cy="266.8" r="9.45" fill="none" stroke="#f00" stroke-width="2.7"/>
<text transform="translate(1940.80 218.00) scale(0.5010 0.4973)" font-family="'Liberation Sans', Arial, Helvetica, sans-serif" font-size="100" fill="#000">315 / 543.5 at 294 K</text>
<text transform="translate(1940.79 284.47) scale(0.5019 0.5313)" font-family="'Liberation Sans', Arial, Helvetica, sans-serif" font-size="100" fill="#000">315 / 543.5 at 12 K</text>
<text transform="translate(1928.60 377.09) scale(0.4973 0.4089)" font-family="'Liberation Sans', Arial, Helvetica, sans-serif" font-size="100" fill="#000">τ</text>
<text transform="translate(1950.47 392.24) scale(0.2545 0.2613)" font-family="'Liberation Sans', Arial, Helvetica, sans-serif" font-size="100" fill="#000">1-294 K</text>
<text transform="translate(2051.85 374.83) scale(0.4280 0.4658)" font-family="'Liberation Sans', Arial, Helvetica, sans-serif" font-size="100" fill="#000">=</text>
<text transform="translate(2100.15 377.03) scale(0.4380 0.4746)" font-family="'Liberation Sans', Arial, Helvetica, sans-serif" font-size="100" fill="#000">0.10 ± 0.01 ms</text>
<text transform="translate(1928.60 454.69) scale(0.4973 0.4089)" font-family="'Liberation Sans', Arial, Helvetica, sans-serif" font-size="100" fill="#000">τ</text>
<text transform="translate(1948.80 469.84) scale(0.2593 0.2613)" font-family="'Liberation Sans', Arial, Helvetica, sans-serif" font-size="100" fill="#000">2-294 K</text>
<text transform="translate(2051.85 452.43) scale(0.4280 0.4658)" font-family="'Liberation Sans', Arial, Helvetica, sans-serif" font-size="100" fill="#000">=</text>
<text transform="translate(2100.15 454.63) scale(0.4380 0.4746)" font-family="'Liberation Sans', Arial, Helvetica, sans-serif" font-size="100" fill="#000">0.40 ± 0.01 ms</text>
<text transform="translate(2003.52 531.01) scale(0.4352 0.4901)" font-family="'Liberation Sans', Arial, Helvetica, sans-serif" font-size="100" fill="#000">&lt;τ&gt; = 0.35 ms</text>
<text transform="translate(1608.15 690.71) scale(0.5376 0.3922)" font-family="'Liberation Sans', Arial, Helvetica, sans-serif" font-size="100" fill="#f00">τ</text>
<text transform="translate(1631.40 706.60) scale(0.2496 0.2708)" font-family="'Liberation Sans', Arial, Helvetica, sans-serif" font-size="100" fill="#f00">1-12K</text>
<text transform="translate(1710.02 688.61) scale(0.4342 0.4472)" font-family="'Liberation Sans', Arial, Helvetica, sans-serif" font-size="100" fill="#f00">=</text>
<text transform="translate(1759.25 691.73) scale(0.4368 0.4703)" font-family="'Liberation Sans', Arial, Helvetica, sans-serif" font-size="100" fill="#f00">0.09 ± 0.01 ms</text>
<text transform="translate(1608.15 767.31) scale(0.5376 0.3922)" font-family="'Liberation Sans', Arial, Helvetica, sans-serif" font-size="100" fill="#f00">τ</text>
<text transform="translate(1628.70 783.20) scale(0.2598 0.2708)" font-family="'Liberation Sans', Arial, Helvetica, sans-serif" font-size="100" fill="#f00">2-12K</text>
<text transform="translate(1710.02 765.21) scale(0.4342 0.4472)" font-family="'Liberation Sans', Arial, Helvetica, sans-serif" font-size="100" fill="#f00">=</text>
<text transform="translate(1759.25 768.33) scale(0.4368 0.4703)" font-family="'Liberation Sans', Arial, Helvetica, sans-serif" font-size="100" fill="#f00">0.38 ± 0.01 ms</text>
<text transform="translate(1658.91 846.00) scale(0.4386 0.5014)" font-family="'Liberation Sans', Arial, Helvetica, sans-serif" font-size="100" fill="#f00">&lt;τ&gt; = 0.33 ms</text>
<g fill="none" stroke="#000" stroke-width="2.8"><circle cx="1603.8" cy="147.5" r="8.7"/><circle cx="1607.1" cy="166.5" r="8.7"/><circle cx="1610.5" cy="180.0" r="8.7"/><circle cx="1613.8" cy="190.5" r="8.7"/><circle cx="1617.1" cy="198.9" r="8.7"/><circle cx="1620.4" cy="207.6" r="8.7"/><circle cx="1623.7" cy="215.3" r="8.7"/><circle cx="1627.0" cy="222.1" r="8.7"/><circle cx="1630.3" cy="227.2" r="8.7"/><circle cx="1633.6" cy="232.5" r="8.7"/><circle cx="1637.0" cy="239.5" r="8.7"/><circle cx="1640.3" cy="246.5" r="8.7"/><circle cx="1643.6" cy="251.6" r="8.7"/><circle cx="1646.9" cy="254.1" r="8.7"/><circle cx="1650.2" cy="260.5" r="8.7"/><circle cx="1653.5" cy="267.6" r="8.7"/><circle cx="1656.8" cy="270.5" r="8.7"/><circle cx="1660.2" cy="276.2" r="8.7"/><circle cx="1663.5" cy="279.8" r="8.7"/><circle cx="1666.8" cy="283.9" r="8.7"/><circle cx="1670.1" cy="288.5" r="8.7"/><circle cx="1673.4" cy="291.2" r="8.7"/><circle cx="1676.7" cy="297.0" r="8.7"/><circle cx="1680.0" cy="303.3" r="8.7"/><circle cx="1683.3" cy="307.9" r="8.7"/><circle cx="1686.7" cy="313.6" r="8.7"/><circle cx="1690.0" cy="324.6" r="8.7"/><circle cx="1693.3" cy="328.5" r="8.7"/><circle cx="1696.6" cy="335.9" r="8.7"/><circle cx="1699.9" cy="340.0" r="8.7"/><circle cx="1703.2" cy="348.1" r="8.7"/><circle cx="1706.5" cy="350.6" r="8.7"/><circle cx="1709.9" cy="356.1" r="8.7"/><circle cx="1713.2" cy="362.0" r="8.7"/><circle cx="1716.5" cy="369.2" r="8.7"/><circle cx="1719.8" cy="372.7" r="8.7"/><circle cx="1723.1" cy="379.9" r="8.7"/><circle cx="1726.4" cy="386.0" r="8.7"/><circle cx="1729.7" cy="386.4" r="8.7"/><circle cx="1733.0" cy="395.7" r="8.7"/><circle cx="1736.4" cy="393.5" r="8.7"/><circle cx="1739.7" cy="399.8" r="8.7"/><circle cx="1743.0" cy="414.7" r="8.7"/><circle cx="1746.3" cy="411.1" r="8.7"/><circle cx="1749.6" cy="421.3" r="8.7"/><circle cx="1752.9" cy="421.6" r="8.7"/><circle cx="1756.2" cy="426.3" r="8.7"/><circle cx="1759.5" cy="440.4" r="8.7"/><circle cx="1762.9" cy="436.9" r="8.7"/><circle cx="1766.2" cy="441.7" r="8.7"/><circle cx="1769.5" cy="440.7" r="8.7"/><circle cx="1772.8" cy="455.8" r="8.7"/><circle cx="1776.1" cy="450.4" r="8.7"/><circle cx="1779.4" cy="464.6" r="8.7"/><circle cx="1782.7" cy="464.5" r="8.7"/><circle cx="1786.1" cy="471.4" r="8.7"/><circle cx="1789.4" cy="462.9" r="8.7"/><circle cx="1792.7" cy="471.4" r="8.7"/><circle cx="1796.0" cy="464.9" r="8.7"/><circle cx="1799.3" cy="477.5" r="8.7"/><circle cx="1802.6" cy="480.1" r="8.7"/><circle cx="1805.9" cy="484.2" r="8.7"/><circle cx="1809.2" cy="496.6" r="8.7"/><circle cx="1812.6" cy="496.6" r="8.7"/><circle cx="1815.9" cy="490.1" r="8.7"/><circle cx="1819.2" cy="505.9" r="8.7"/><circle cx="1822.5" cy="504.0" r="8.7"/><circle cx="1825.8" cy="508.0" r="8.7"/><circle cx="1829.1" cy="508.0" r="8.7"/><circle cx="1832.4" cy="519.3" r="8.7"/><circle cx="1835.8" cy="519.3" r="8.7"/><circle cx="1839.1" cy="519.3" r="8.7"/><circle cx="1842.4" cy="524.5" r="8.7"/><circle cx="1845.7" cy="536.4" r="8.7"/><circle cx="1849.0" cy="521.9" r="8.7"/><circle cx="1852.3" cy="547.1" r="8.7"/><circle cx="1855.6" cy="547.1" r="8.7"/><circle cx="1858.9" cy="551.1" r="8.7"/><circle cx="1862.3" cy="530.2" r="8.7"/><circle cx="1865.6" cy="547.1" r="8.7"/><circle cx="1868.9" cy="555.4" r="8.7"/><circle cx="1872.2" cy="560.0" r="8.7"/><circle cx="1875.5" cy="543.3" r="8.7"/><circle cx="1878.8" cy="560.0" r="8.7"/><circle cx="1882.1" cy="564.9" r="8.7"/><circle cx="1885.5" cy="543.3" r="8.7"/><circle cx="1888.8" cy="564.9" r="8.7"/><circle cx="1892.1" cy="555.4" r="8.7"/><circle cx="1895.4" cy="555.4" r="8.7"/><circle cx="1898.7" cy="560.0" r="8.7"/><circle cx="1902.0" cy="555.4" r="8.7"/><circle cx="1905.3" cy="543.3" r="8.7"/><circle cx="1908.6" cy="564.9" r="8.7"/><circle cx="1912.0" cy="576.3" r="8.7"/><circle cx="1915.3" cy="582.8" r="8.7"/><circle cx="1918.6" cy="560.0" r="8.7"/><circle cx="1921.9" cy="564.9" r="8.7"/><circle cx="1925.2" cy="555.4" r="8.7"/><circle cx="1928.5" cy="564.9" r="8.7"/><circle cx="1931.8" cy="564.9" r="8.7"/><circle cx="1935.1" cy="570.3" r="8.7"/><circle cx="1938.5" cy="570.3" r="8.7"/><circle cx="1941.8" cy="560.0" r="8.7"/><circle cx="1945.1" cy="564.9" r="8.7"/><circle cx="1948.4" cy="564.9" r="8.7"/><circle cx="1951.7" cy="551.1" r="8.7"/><circle cx="1955.0" cy="560.0" r="8.7"/><circle cx="1958.3" cy="576.3" r="8.7"/><circle cx="1961.7" cy="551.1" r="8.7"/><circle cx="1965.0" cy="560.0" r="8.7"/><circle cx="1968.3" cy="570.3" r="8.7"/><circle cx="1971.6" cy="555.4" r="8.7"/><circle cx="1974.9" cy="564.9" r="8.7"/><circle cx="1978.2" cy="570.3" r="8.7"/><circle cx="1981.5" cy="570.3" r="8.7"/><circle cx="1984.8" cy="570.3" r="8.7"/><circle cx="1988.2" cy="564.9" r="8.7"/><circle cx="1991.5" cy="555.4" r="8.7"/><circle cx="1994.8" cy="564.9" r="8.7"/><circle cx="1998.1" cy="560.0" r="8.7"/><circle cx="2001.4" cy="551.1" r="8.7"/><circle cx="2004.7" cy="576.3" r="8.7"/><circle cx="2008.0" cy="560.0" r="8.7"/><circle cx="2011.4" cy="564.9" r="8.7"/><circle cx="2014.7" cy="570.3" r="8.7"/><circle cx="2018.0" cy="570.3" r="8.7"/><circle cx="2021.3" cy="564.9" r="8.7"/><circle cx="2024.6" cy="560.0" r="8.7"/><circle cx="2027.9" cy="570.3" r="8.7"/><circle cx="2031.2" cy="564.9" r="8.7"/><circle cx="2034.5" cy="560.0" r="8.7"/><circle cx="2037.9" cy="560.0" r="8.7"/><circle cx="2041.2" cy="555.4" r="8.7"/><circle cx="2044.5" cy="560.0" r="8.7"/><circle cx="2047.8" cy="560.0" r="8.7"/><circle cx="2051.1" cy="551.1" r="8.7"/><circle cx="2054.4" cy="560.0" r="8.7"/><circle cx="2057.7" cy="560.0" r="8.7"/><circle cx="2061.0" cy="560.0" r="8.7"/><circle cx="2064.4" cy="570.3" r="8.7"/><circle cx="2067.7" cy="564.9" r="8.7"/><circle cx="2071.0" cy="555.4" r="8.7"/><circle cx="2074.3" cy="560.0" r="8.7"/><circle cx="2077.6" cy="551.1" r="8.7"/><circle cx="2080.9" cy="564.9" r="8.7"/><circle cx="2084.2" cy="576.3" r="8.7"/><circle cx="2087.6" cy="551.1" r="8.7"/><circle cx="2090.9" cy="555.4" r="8.7"/><circle cx="2094.2" cy="570.3" r="8.7"/><circle cx="2097.5" cy="551.1" r="8.7"/><circle cx="2100.8" cy="564.9" r="8.7"/><circle cx="2104.1" cy="582.8" r="8.7"/><circle cx="2107.4" cy="564.9" r="8.7"/><circle cx="2110.7" cy="570.3" r="8.7"/><circle cx="2114.1" cy="551.1" r="8.7"/><circle cx="2117.4" cy="570.3" r="8.7"/><circle cx="2120.7" cy="564.9" r="8.7"/><circle cx="2124.0" cy="564.9" r="8.7"/><circle cx="2127.3" cy="564.9" r="8.7"/><circle cx="2130.6" cy="570.3" r="8.7"/><circle cx="2133.9" cy="560.0" r="8.7"/><circle cx="2137.3" cy="555.4" r="8.7"/><circle cx="2140.6" cy="560.0" r="8.7"/><circle cx="2143.9" cy="570.3" r="8.7"/><circle cx="2147.2" cy="576.3" r="8.7"/><circle cx="2150.5" cy="564.9" r="8.7"/><circle cx="2153.8" cy="570.3" r="8.7"/><circle cx="2157.1" cy="570.3" r="8.7"/><circle cx="2160.4" cy="576.3" r="8.7"/><circle cx="2163.8" cy="551.1" r="8.7"/><circle cx="2167.1" cy="555.4" r="8.7"/><circle cx="2170.4" cy="570.3" r="8.7"/><circle cx="2173.7" cy="555.4" r="8.7"/><circle cx="2177.0" cy="555.4" r="8.7"/><circle cx="2180.3" cy="570.3" r="8.7"/><circle cx="2183.6" cy="564.9" r="8.7"/><circle cx="2187.0" cy="560.0" r="8.7"/><circle cx="2190.3" cy="564.9" r="8.7"/><circle cx="2193.6" cy="564.9" r="8.7"/><circle cx="2196.9" cy="564.9" r="8.7"/><circle cx="2200.2" cy="551.1" r="8.7"/><circle cx="2203.5" cy="570.3" r="8.7"/><circle cx="2206.8" cy="570.3" r="8.7"/><circle cx="2210.1" cy="570.3" r="8.7"/><circle cx="2213.5" cy="570.3" r="8.7"/><circle cx="2216.8" cy="564.9" r="8.7"/><circle cx="2220.1" cy="560.0" r="8.7"/><circle cx="2223.4" cy="555.4" r="8.7"/><circle cx="2226.7" cy="560.0" r="8.7"/><circle cx="2230.0" cy="570.3" r="8.7"/><circle cx="2233.3" cy="560.0" r="8.7"/><circle cx="2236.6" cy="560.0" r="8.7"/><circle cx="2240.0" cy="551.1" r="8.7"/><circle cx="2243.3" cy="564.9" r="8.7"/><circle cx="2246.6" cy="576.3" r="8.7"/><circle cx="2249.9" cy="570.3" r="8.7"/><circle cx="2253.2" cy="551.1" r="8.7"/><circle cx="2256.5" cy="570.3" r="8.7"/><circle cx="2259.8" cy="582.8" r="8.7"/><circle cx="2263.2" cy="570.3" r="8.7"/><circle cx="2266.5" cy="564.9" r="8.7"/><circle cx="2269.8" cy="555.4" r="8.7"/><circle cx="2273.1" cy="570.3" r="8.7"/><circle cx="2276.4" cy="560.0" r="8.7"/><circle cx="2279.7" cy="555.4" r="8.7"/><circle cx="2283.0" cy="570.3" r="8.7"/><circle cx="2286.3" cy="564.9" r="8.7"/><circle cx="2289.7" cy="551.1" r="8.7"/><circle cx="2293.0" cy="551.1" r="8.7"/><circle cx="2296.3" cy="555.4" r="8.7"/><circle cx="2299.6" cy="560.0" r="8.7"/><circle cx="2302.9" cy="555.4" r="8.7"/><circle cx="2306.2" cy="564.9" r="8.7"/><circle cx="2309.5" cy="564.9" r="8.7"/><circle cx="2312.9" cy="570.3" r="8.7"/><circle cx="2316.2" cy="564.9" r="8.7"/><circle cx="2319.5" cy="564.9" r="8.7"/><circle cx="2322.8" cy="564.9" r="8.7"/><circle cx="2326.1" cy="555.4" r="8.7"/><circle cx="2329.4" cy="555.4" r="8.7"/><circle cx="2332.7" cy="564.9" r="8.7"/><circle cx="2336.0" cy="555.4" r="8.7"/><circle cx="2339.4" cy="582.8" r="8.7"/><circle cx="2342.7" cy="564.9" r="8.7"/><circle cx="2346.0" cy="555.4" r="8.7"/><circle cx="2349.3" cy="576.3" r="8.7"/><circle cx="2352.6" cy="555.4" r="8.7"/><circle cx="2355.9" cy="564.9" r="8.7"/><circle cx="2359.2" cy="570.3" r="8.7"/><circle cx="2362.6" cy="564.9" r="8.7"/><circle cx="2365.9" cy="570.3" r="8.7"/><circle cx="2369.2" cy="560.0" r="8.7"/><circle cx="2372.5" cy="560.0" r="8.7"/><circle cx="2375.8" cy="564.9" r="8.7"/><circle cx="2379.1" cy="570.3" r="8.7"/><circle cx="2382.4" cy="564.9" r="8.7"/><circle cx="2385.7" cy="555.4" r="8.7"/><circle cx="2389.1" cy="560.0" r="8.7"/><circle cx="2392.4" cy="560.0" r="8.7"/><circle cx="2395.7" cy="564.9" r="8.7"/><circle cx="2399.0" cy="576.3" r="8.7"/><circle cx="2240.0" cy="719.4" r="8.7"/><circle cx="2231.4" cy="676.3" r="8.7"/><circle cx="1998.2" cy="651.1" r="8.7"/><circle cx="2158.9" cy="651.1" r="8.7"/><circle cx="2305.0" cy="651.1" r="8.7"/><circle cx="2153.0" cy="633.2" r="8.7"/><circle cx="2243.7" cy="633.2" r="8.7"/><circle cx="2363.9" cy="633.2" r="8.7"/></g>
<g fill="none" stroke="#f00" stroke-width="2.8"><circle cx="1603.8" cy="151.7" r="8.7"/><circle cx="1607.1" cy="175.5" r="8.7"/><circle cx="1610.5" cy="187.5" r="8.7"/><circle cx="1613.8" cy="196.2" r="8.7"/><circle cx="1617.1" cy="203.5" r="8.7"/><circle cx="1620.4" cy="207.0" r="8.7"/><circle cx="1623.7" cy="212.4" r="8.7"/><circle cx="1627.0" cy="217.5" r="8.7"/><circle cx="1630.3" cy="222.8" r="8.7"/><circle cx="1633.6" cy="227.3" r="8.7"/><circle cx="1637.0" cy="232.6" r="8.7"/><circle cx="1640.3" cy="237.3" r="8.7"/><circle cx="1643.6" cy="243.0" r="8.7"/><circle cx="1646.9" cy="248.0" r="8.7"/><circle cx="1650.2" cy="254.0" r="8.7"/><circle cx="1653.5" cy="260.9" r="8.7"/><circle cx="1656.8" cy="265.4" r="8.7"/><circle cx="1660.2" cy="269.2" r="8.7"/><circle cx="1663.5" cy="275.4" r="8.7"/><circle cx="1666.8" cy="278.3" r="8.7"/><circle cx="1670.1" cy="281.7" r="8.7"/><circle cx="1673.4" cy="290.4" r="8.7"/><circle cx="1676.7" cy="297.4" r="8.7"/><circle cx="1680.0" cy="295.2" r="8.7"/><circle cx="1683.3" cy="302.5" r="8.7"/><circle cx="1686.7" cy="305.5" r="8.7"/><circle cx="1690.0" cy="315.4" r="8.7"/><circle cx="1693.3" cy="312.0" r="8.7"/><circle cx="1696.6" cy="319.1" r="8.7"/><circle cx="1699.9" cy="326.0" r="8.7"/><circle cx="1703.2" cy="331.3" r="8.7"/><circle cx="1706.5" cy="334.8" r="8.7"/><circle cx="1709.9" cy="340.8" r="8.7"/><circle cx="1713.2" cy="346.5" r="8.7"/><circle cx="1716.5" cy="354.9" r="8.7"/><circle cx="1719.8" cy="351.7" r="8.7"/><circle cx="1723.1" cy="361.7" r="8.7"/><circle cx="1726.4" cy="366.6" r="8.7"/><circle cx="1729.7" cy="371.8" r="8.7"/><circle cx="1733.0" cy="388.5" r="8.7"/><circle cx="1736.4" cy="379.7" r="8.7"/><circle cx="1739.7" cy="388.1" r="8.7"/><circle cx="1743.0" cy="392.3" r="8.7"/><circle cx="1746.3" cy="394.7" r="8.7"/><circle cx="1749.6" cy="404.5" r="8.7"/><circle cx="1752.9" cy="398.9" r="8.7"/><circle cx="1756.2" cy="411.3" r="8.7"/><circle cx="1759.5" cy="416.8" r="8.7"/><circle cx="1762.9" cy="420.8" r="8.7"/><circle cx="1766.2" cy="418.7" r="8.7"/><circle cx="1769.5" cy="419.2" r="8.7"/><circle cx="1772.8" cy="432.0" r="8.7"/><circle cx="1776.1" cy="443.3" r="8.7"/><circle cx="1779.4" cy="429.2" r="8.7"/><circle cx="1782.7" cy="448.7" r="8.7"/><circle cx="1786.1" cy="436.2" r="8.7"/><circle cx="1789.4" cy="449.2" r="8.7"/><circle cx="1792.7" cy="458.8" r="8.7"/><circle cx="1796.0" cy="462.7" r="8.7"/><circle cx="1799.3" cy="457.5" r="8.7"/><circle cx="1802.6" cy="458.0" r="8.7"/><circle cx="1805.9" cy="471.4" r="8.7"/><circle cx="1809.2" cy="464.9" r="8.7"/><circle cx="1812.6" cy="459.9" r="8.7"/><circle cx="1815.9" cy="484.2" r="8.7"/><circle cx="1819.2" cy="498.4" r="8.7"/><circle cx="1822.5" cy="502.1" r="8.7"/><circle cx="1825.8" cy="512.3" r="8.7"/><circle cx="1829.1" cy="505.9" r="8.7"/><circle cx="1832.4" cy="510.1" r="8.7"/><circle cx="1835.8" cy="524.5" r="8.7"/><circle cx="1839.1" cy="504.0" r="8.7"/><circle cx="1842.4" cy="560.0" r="8.7"/><circle cx="1845.7" cy="536.4" r="8.7"/><circle cx="1849.0" cy="496.6" r="8.7"/><circle cx="1852.3" cy="510.1" r="8.7"/><circle cx="1855.6" cy="519.3" r="8.7"/><circle cx="1858.9" cy="521.9" r="8.7"/><circle cx="1862.3" cy="510.1" r="8.7"/><circle cx="1865.6" cy="527.3" r="8.7"/><circle cx="1868.9" cy="536.4" r="8.7"/><circle cx="1872.2" cy="564.9" r="8.7"/><circle cx="1875.5" cy="543.3" r="8.7"/><circle cx="1878.8" cy="560.0" r="8.7"/><circle cx="1882.1" cy="560.0" r="8.7"/><circle cx="1885.5" cy="564.9" r="8.7"/><circle cx="1888.8" cy="551.1" r="8.7"/><circle cx="1892.1" cy="560.0" r="8.7"/><circle cx="1895.4" cy="543.3" r="8.7"/><circle cx="1898.7" cy="590.1" r="8.7"/><circle cx="1902.0" cy="564.9" r="8.7"/><circle cx="1905.3" cy="536.4" r="8.7"/><circle cx="1908.6" cy="564.9" r="8.7"/><circle cx="1912.0" cy="547.1" r="8.7"/><circle cx="1915.3" cy="551.1" r="8.7"/><circle cx="1918.6" cy="551.1" r="8.7"/><circle cx="1921.9" cy="560.0" r="8.7"/><circle cx="1925.2" cy="619.4" r="8.7"/><circle cx="1928.5" cy="582.8" r="8.7"/><circle cx="1931.8" cy="590.1" r="8.7"/><circle cx="1935.1" cy="619.4" r="8.7"/><circle cx="1938.5" cy="590.1" r="8.7"/><circle cx="1941.8" cy="619.4" r="8.7"/><circle cx="1945.1" cy="619.4" r="8.7"/><circle cx="1948.4" cy="590.1" r="8.7"/><circle cx="1951.7" cy="598.4" r="8.7"/><circle cx="1955.0" cy="608.0" r="8.7"/><circle cx="1958.3" cy="619.4" r="8.7"/><circle cx="1961.7" cy="608.0" r="8.7"/><circle cx="1965.0" cy="598.4" r="8.7"/><circle cx="1968.3" cy="598.4" r="8.7"/><circle cx="1971.6" cy="598.4" r="8.7"/><circle cx="1974.9" cy="598.4" r="8.7"/><circle cx="1978.2" cy="590.1" r="8.7"/><circle cx="1981.5" cy="582.8" r="8.7"/><circle cx="1984.8" cy="590.1" r="8.7"/><circle cx="1988.2" cy="608.0" r="8.7"/><circle cx="1991.5" cy="608.0" r="8.7"/><circle cx="1994.8" cy="582.8" r="8.7"/><circle cx="1998.1" cy="598.4" r="8.7"/><circle cx="2001.4" cy="590.1" r="8.7"/><circle cx="2004.7" cy="590.1" r="8.7"/><circle cx="2008.0" cy="590.1" r="8.7"/><circle cx="2011.4" cy="570.3" r="8.7"/><circle cx="2014.7" cy="582.8" r="8.7"/><circle cx="2018.0" cy="590.1" r="8.7"/><circle cx="2021.3" cy="590.1" r="8.7"/><circle cx="2024.6" cy="576.3" r="8.7"/><circle cx="2027.9" cy="608.0" r="8.7"/><circle cx="2031.2" cy="582.8" r="8.7"/><circle cx="2034.5" cy="590.1" r="8.7"/><circle cx="2037.9" cy="590.1" r="8.7"/><circle cx="2041.2" cy="576.3" r="8.7"/><circle cx="2044.5" cy="608.0" r="8.7"/><circle cx="2047.8" cy="598.4" r="8.7"/><circle cx="2051.1" cy="608.0" r="8.7"/><circle cx="2054.4" cy="598.4" r="8.7"/><circle cx="2057.7" cy="570.3" r="8.7"/><circle cx="2061.0" cy="598.4" r="8.7"/><circle cx="2064.4" cy="576.3" r="8.7"/><circle cx="2067.7" cy="582.8" r="8.7"/><circle cx="2071.0" cy="582.8" r="8.7"/><circle cx="2074.3" cy="582.8" r="8.7"/><circle cx="2077.6" cy="619.4" r="8.7"/><circle cx="2080.9" cy="590.1" r="8.7"/><circle cx="2084.2" cy="570.3" r="8.7"/><circle cx="2087.6" cy="608.0" r="8.7"/><circle cx="2090.9" cy="598.4" r="8.7"/><circle cx="2094.2" cy="608.0" r="8.7"/><circle cx="2097.5" cy="590.1" r="8.7"/><circle cx="2100.8" cy="619.4" r="8.7"/><circle cx="2104.1" cy="570.3" r="8.7"/><circle cx="2107.4" cy="598.4" r="8.7"/><circle cx="2110.7" cy="564.9" r="8.7"/><circle cx="2114.1" cy="576.3" r="8.7"/><circle cx="2117.4" cy="582.8" r="8.7"/><circle cx="2120.7" cy="582.8" r="8.7"/><circle cx="2124.0" cy="598.4" r="8.7"/><circle cx="2127.3" cy="598.4" r="8.7"/><circle cx="2130.6" cy="582.8" r="8.7"/><circle cx="2133.9" cy="576.3" r="8.7"/><circle cx="2137.3" cy="576.3" r="8.7"/><circle cx="2140.6" cy="590.1" r="8.7"/><circle cx="2143.9" cy="598.4" r="8.7"/><circle cx="2147.2" cy="598.4" r="8.7"/><circle cx="2150.5" cy="576.3" r="8.7"/><circle cx="2153.8" cy="570.3" r="8.7"/><circle cx="2157.1" cy="598.4" r="8.7"/><circle cx="2160.4" cy="598.4" r="8.7"/><circle cx="2163.8" cy="576.3" r="8.7"/><circle cx="2167.1" cy="582.8" r="8.7"/><circle cx="2170.4" cy="582.8" r="8.7"/><circle cx="2173.7" cy="619.4" r="8.7"/><circle cx="2177.0" cy="598.4" r="8.7"/><circle cx="2180.3" cy="608.0" r="8.7"/><circle cx="2183.6" cy="590.1" r="8.7"/><circle cx="2187.0" cy="570.3" r="8.7"/><circle cx="2190.3" cy="590.1" r="8.7"/><circle cx="2193.6" cy="582.8" r="8.7"/><circle cx="2196.9" cy="619.4" r="8.7"/><circle cx="2200.2" cy="590.1" r="8.7"/><circle cx="2203.5" cy="570.3" r="8.7"/><circle cx="2206.8" cy="590.1" r="8.7"/><circle cx="2210.1" cy="582.8" r="8.7"/><circle cx="2213.5" cy="608.0" r="8.7"/><circle cx="2216.8" cy="582.8" r="8.7"/><circle cx="2220.1" cy="598.4" r="8.7"/><circle cx="2223.4" cy="576.3" r="8.7"/><circle cx="2226.7" cy="582.8" r="8.7"/><circle cx="2230.0" cy="590.1" r="8.7"/><circle cx="2233.3" cy="564.9" r="8.7"/><circle cx="2236.6" cy="576.3" r="8.7"/><circle cx="2240.0" cy="570.3" r="8.7"/><circle cx="2243.3" cy="619.4" r="8.7"/><circle cx="2246.6" cy="608.0" r="8.7"/><circle cx="2249.9" cy="576.3" r="8.7"/><circle cx="2253.2" cy="576.3" r="8.7"/><circle cx="2256.5" cy="598.4" r="8.7"/><circle cx="2259.8" cy="582.8" r="8.7"/><circle cx="2263.2" cy="619.4" r="8.7"/><circle cx="2266.5" cy="590.1" r="8.7"/><circle cx="2269.8" cy="619.4" r="8.7"/><circle cx="2273.1" cy="590.1" r="8.7"/><circle cx="2276.4" cy="608.0" r="8.7"/><circle cx="2279.7" cy="608.0" r="8.7"/><circle cx="2283.0" cy="590.1" r="8.7"/><circle cx="2286.3" cy="564.9" r="8.7"/><circle cx="2289.7" cy="619.4" r="8.7"/><circle cx="2293.0" cy="608.0" r="8.7"/><circle cx="2296.3" cy="576.3" r="8.7"/><circle cx="2299.6" cy="598.4" r="8.7"/><circle cx="2302.9" cy="564.9" r="8.7"/><circle cx="2306.2" cy="590.1" r="8.7"/><circle cx="2309.5" cy="590.1" r="8.7"/><circle cx="2312.9" cy="590.1" r="8.7"/><circle cx="2316.2" cy="564.9" r="8.7"/><circle cx="2319.5" cy="582.8" r="8.7"/><circle cx="2322.8" cy="582.8" r="8.7"/><circle cx="2326.1" cy="590.1" r="8.7"/><circle cx="2329.4" cy="608.0" r="8.7"/><circle cx="2332.7" cy="570.3" r="8.7"/><circle cx="2336.0" cy="582.8" r="8.7"/><circle cx="2339.4" cy="582.8" r="8.7"/><circle cx="2342.7" cy="582.8" r="8.7"/><circle cx="2346.0" cy="608.0" r="8.7"/><circle cx="2349.3" cy="590.1" r="8.7"/><circle cx="2352.6" cy="608.0" r="8.7"/><circle cx="2355.9" cy="582.8" r="8.7"/><circle cx="2359.2" cy="608.0" r="8.7"/><circle cx="2362.6" cy="598.4" r="8.7"/><circle cx="2365.9" cy="582.8" r="8.7"/><circle cx="2369.2" cy="598.4" r="8.7"/><circle cx="2372.5" cy="582.8" r="8.7"/><circle cx="2375.8" cy="582.8" r="8.7"/><circle cx="2379.1" cy="590.1" r="8.7"/><circle cx="2382.4" cy="570.3" r="8.7"/><circle cx="2385.7" cy="582.8" r="8.7"/><circle cx="2389.1" cy="576.3" r="8.7"/><circle cx="2392.4" cy="564.9" r="8.7"/><circle cx="2395.7" cy="582.8" r="8.7"/><circle cx="2399.0" cy="576.3" r="8.7"/><circle cx="2148.9" cy="719.4" r="8.7"/><circle cx="2174.2" cy="676.3" r="8.7"/><circle cx="2213.1" cy="676.3" r="8.7"/><circle cx="2289.8" cy="676.3" r="8.7"/><circle cx="2380.7" cy="676.3" r="8.7"/><circle cx="2077.3" cy="651.1" r="8.7"/><circle cx="2108.4" cy="651.1" r="8.7"/><circle cx="2197.8" cy="651.1" r="8.7"/><circle cx="2222.5" cy="651.1" r="8.7"/><circle cx="2243.7" cy="651.1" r="8.7"/><circle cx="2324.6" cy="651.1" r="8.7"/><circle cx="2344.8" cy="651.1" r="8.7"/><circle cx="2384.0" cy="651.1" r="8.7"/><circle cx="2399.8" cy="651.1" r="8.7"/><circle cx="1977.3" cy="633.2" r="8.7"/><circle cx="1997.6" cy="633.2" r="8.7"/><circle cx="2032.7" cy="633.2" r="8.7"/><circle cx="2067.8" cy="633.2" r="8.7"/><circle cx="2128.2" cy="633.2" r="8.7"/><circle cx="2209.0" cy="633.2" r="8.7"/><circle cx="2285.3" cy="633.2" r="8.7"/><circle cx="2339.2" cy="633.2" r="8.7"/></g>
<path d="M1603.8 147.1 L1605.4 156.2 L1607.0 165.2 L1608.6 172.6 L1610.2 179.0 L1611.8 184.6 L1613.4 189.7 L1615.0 194.2 L1616.6 198.4 L1618.2 202.4 L1619.8 206.2 L1621.4 209.9 L1623.0 213.3 L1624.6 216.6 L1626.2 219.8 L1627.8 222.9 L1629.4 226.0 L1631.0 229.0 L1632.5 231.9 L1634.1 234.9 L1635.7 237.7 L1637.3 240.4 L1638.9 243.1 L1640.5 245.8 L1642.1 248.3 L1643.7 250.9 L1645.3 253.3 L1646.9 255.8 L1648.5 258.2 L1650.1 260.6 L1651.7 262.9 L1653.3 265.3 L1654.9 267.6 L1656.5 269.9 L1658.1 272.1 L1659.7 274.2 L1661.3 276.2 L1662.9 278.3 L1664.5 280.3 L1666.1 282.3 L1667.6 284.3 L1669.2 286.4 L1670.8 288.5 L1672.4 290.6 L1674.0 292.9 L1675.6 295.2 L1677.2 297.7 L1678.8 300.3 L1680.4 303.1 L1682.0 306.0 L1683.6 309.0 L1685.2 312.1 L1686.8 315.3 L1688.4 318.5 L1690.0 321.6 L1691.6 324.7 L1693.2 327.8 L1694.8 330.8 L1696.4 333.6 L1698.0 336.4 L1699.6 339.1 L1701.2 341.8 L1702.8 344.4 L1704.3 347.1 L1705.9 349.7 L1707.5 352.3 L1709.1 354.8 L1710.7 357.4 L1712.3 359.9 L1713.9 362.5 L1715.5 365.0 L1717.1 367.5 L1718.7 369.9 L1720.3 372.4 L1721.9 374.9 L1723.5 377.4 L1725.1 379.9 L1726.7 382.3 L1728.3 384.8 L1729.9 387.3 L1731.5 389.7 L1733.1 392.2 L1734.7 394.6 L1736.3 397.0 L1737.9 399.5 L1739.4 401.9 L1741.0 404.3 L1742.6 406.7 L1744.2 409.0 L1745.8 411.4 L1747.4 413.8 L1749.0 416.1 L1750.6 418.4 L1752.2 420.7 L1753.8 423.0 L1755.4 425.3 L1757.0 427.6 L1758.6 429.8 L1760.2 432.1 L1761.8 434.4 L1763.4 436.6 L1765.0 438.8 L1766.6 441.1 L1768.2 443.3 L1769.8 445.5 L1771.4 447.7 L1773.0 449.9 L1774.6 452.0 L1776.1 454.1 L1777.7 456.2 L1779.3 458.3 L1780.9 460.3 L1782.5 462.3 L1784.1 464.3 L1785.7 466.2 L1787.3 468.1 L1788.9 470.0 L1790.5 471.9 L1792.1 473.7 L1793.7 475.6 L1795.3 477.4 L1796.9 479.1 L1798.5 480.9 L1800.1 482.7 L1801.7 484.4 L1803.3 486.1 L1804.9 487.8 L1806.5 489.5 L1808.1 491.1 L1809.7 492.8 L1811.2 494.4 L1812.8 496.0 L1814.4 497.6 L1816.0 499.2 L1817.6 500.8 L1819.2 502.3 L1820.8 503.9 L1822.4 505.4 L1824.0 506.9 L1825.6 508.5 L1827.2 510.0 L1828.8 511.6 L1830.4 513.2 L1832.0 514.8 L1833.6 516.3 L1835.2 517.9 L1836.8 519.4 L1838.4 521.0 L1840.0 522.5 L1841.6 524.0 L1843.2 525.4 L1844.8 526.8 L1846.3 528.2 L1847.9 529.6 L1849.5 530.9 L1851.1 532.1 L1852.7 533.3 L1854.3 534.4 L1855.9 535.5 L1857.5 536.5 L1859.1 537.4 L1860.7 538.3 L1862.3 539.1 L1863.9 539.9 L1865.5 540.7 L1867.1 541.4 L1868.7 542.2 L1870.3 542.9 L1871.9 543.6 L1873.5 544.3 L1875.1 544.9 L1876.7 545.6 L1878.3 546.2 L1879.9 546.8 L1881.5 547.4 L1883.0 548.0 L1884.6 548.5 L1886.2 549.1 L1887.8 549.6 L1889.4 550.1 L1891.0 550.5 L1892.6 551.0 L1894.2 551.4 L1895.8 551.8 L1897.4 552.2 L1899.0 552.6 L1900.6 552.9 L1902.2 553.2 L1903.8 553.5 L1905.4 553.8 L1907.0 554.1 L1908.6 554.4 L1910.2 554.7 L1911.8 555.0 L1913.4 555.3 L1915.0 555.5 L1916.6 555.8 L1918.1 556.0 L1919.7 556.3 L1921.3 556.5 L1922.9 556.8 L1924.5 557.0 L1926.1 557.2 L1927.7 557.4 L1929.3 557.6 L1930.9 557.9 L1932.5 558.1 L1934.1 558.3 L1935.7 558.4 L1937.3 558.6 L1938.9 558.8 L1940.5 559.0 L1942.1 559.1 L1943.7 559.3 L1945.3 559.5 L1946.9 559.6 L1948.5 559.7 L1950.1 559.9 L1951.7 560.0 L1953.3 560.1 L1954.8 560.3 L1956.4 560.4 L1958.0 560.5 L1959.6 560.6 L1961.2 560.7 L1962.8 560.8 L1964.4 560.9 L1966.0 561.0 L1967.6 561.1 L1969.2 561.1 L1970.8 561.2 L1972.4 561.3 L1974.0 561.4 L1975.6 561.5 L1977.2 561.6 L1978.8 561.7 L1980.4 561.8 L1982.0 561.8 L1983.6 561.9 L1985.2 562.0 L1986.8 562.1 L1988.4 562.2 L1989.9 562.2 L1991.5 562.3 L1993.1 562.4 L1994.7 562.4 L1996.3 562.5 L1997.9 562.6 L1999.5 562.6 L2001.1 562.7 L2002.7 562.7 L2004.3 562.8 L2005.9 562.9 L2007.5 562.9 L2009.1 563.0 L2010.7 563.0 L2012.3 563.0 L2013.9 563.1 L2015.5 563.1 L2017.1 563.1 L2018.7 563.2 L2020.3 563.2 L2021.9 563.2 L2023.5 563.2 L2025.0 563.3 L2026.6 563.3 L2028.2 563.3 L2029.8 563.3 L2031.4 563.3 L2033.0 563.3 L2034.6 563.3 L2036.2 563.3 L2037.8 563.3 L2039.4 563.3 L2041.0 563.3 L2042.6 563.3 L2044.2 563.3 L2045.8 563.4 L2047.4 563.4 L2049.0 563.4 L2050.6 563.4 L2052.2 563.4 L2053.8 563.4 L2055.4 563.4 L2057.0 563.4 L2058.6 563.4 L2060.2 563.4 L2061.7 563.4 L2063.3 563.4 L2064.9 563.4 L2066.5 563.4 L2068.1 563.4 L2069.7 563.4 L2071.3 563.4 L2072.9 563.4 L2074.5 563.4 L2076.1 563.4 L2077.7 563.4 L2079.3 563.4 L2080.9 563.5 L2082.5 563.5 L2084.1 563.5 L2085.7 563.5 L2087.3 563.5 L2088.9 563.5 L2090.5 563.5 L2092.1 563.5 L2093.7 563.5 L2095.3 563.5 L2096.8 563.5 L2098.4 563.5 L2100.0 563.5 L2101.6 563.5 L2103.2 563.5 L2104.8 563.5 L2106.4 563.5 L2108.0 563.5 L2109.6 563.5 L2111.2 563.5 L2112.8 563.5 L2114.4 563.5 L2116.0 563.5 L2117.6 563.5 L2119.2 563.5 L2120.8 563.5 L2122.4 563.6 L2124.0 563.6 L2125.6 563.6 L2127.2 563.6 L2128.8 563.6 L2130.4 563.6 L2132.0 563.6 L2133.5 563.6 L2135.1 563.6 L2136.7 563.6 L2138.3 563.6 L2139.9 563.6 L2141.5 563.6 L2143.1 563.6 L2144.7 563.6 L2146.3 563.6 L2147.9 563.6 L2149.5 563.6 L2151.1 563.6 L2152.7 563.6 L2154.3 563.6 L2155.9 563.6 L2157.5 563.6 L2159.1 563.6 L2160.7 563.6 L2162.3 563.6 L2163.9 563.6 L2165.5 563.6 L2167.1 563.6 L2168.6 563.6 L2170.2 563.6 L2171.8 563.6 L2173.4 563.6 L2175.0 563.6 L2176.6 563.7 L2178.2 563.7 L2179.8 563.7 L2181.4 563.7 L2183.0 563.7 L2184.6 563.7 L2186.2 563.7 L2187.8 563.7 L2189.4 563.7 L2191.0 563.7 L2192.6 563.7 L2194.2 563.7 L2195.8 563.7 L2197.4 563.7 L2199.0 563.7 L2200.6 563.7 L2202.2 563.7 L2203.7 563.7 L2205.3 563.7 L2206.9 563.7 L2208.5 563.7 L2210.1 563.7 L2211.7 563.7 L2213.3 563.7 L2214.9 563.7 L2216.5 563.7 L2218.1 563.7 L2219.7 563.7 L2221.3 563.7 L2222.9 563.7 L2224.5 563.7 L2226.1 563.7 L2227.7 563.7 L2229.3 563.7 L2230.9 563.7 L2232.5 563.7 L2234.1 563.7 L2235.7 563.7 L2237.3 563.7 L2238.9 563.7 L2240.4 563.7 L2242.0 563.7 L2243.6 563.7 L2245.2 563.7 L2246.8 563.7 L2248.4 563.7 L2250.0 563.7 L2251.6 563.7 L2253.2 563.7 L2254.8 563.7 L2256.4 563.7 L2258.0 563.7 L2259.6 563.7 L2261.2 563.7 L2262.8 563.8 L2264.4 563.8 L2266.0 563.8 L2267.6 563.8 L2269.2 563.8 L2270.8 563.8 L2272.4 563.8 L2274.0 563.8 L2275.5 563.8 L2277.1 563.8 L2278.7 563.8 L2280.3 563.8 L2281.9 563.8 L2283.5 563.8 L2285.1 563.8 L2286.7 563.8 L2288.3 563.8 L2289.9 563.8 L2291.5 563.8 L2293.1 563.8 L2294.7 563.8 L2296.3 563.8 L2297.9 563.8 L2299.5 563.8 L2301.1 563.8 L2302.7 563.8 L2304.3 563.8 L2305.9 563.8 L2307.5 563.8 L2309.1 563.8 L2310.7 563.8 L2312.2 563.8 L2313.8 563.8 L2315.4 563.8 L2317.0 563.8 L2318.6 563.8 L2320.2 563.8 L2321.8 563.8 L2323.4 563.8 L2325.0 563.8 L2326.6 563.8 L2328.2 563.8 L2329.8 563.8 L2331.4 563.8 L2333.0 563.8 L2334.6 563.8 L2336.2 563.8 L2337.8 563.8 L2339.4 563.8 L2341.0 563.8 L2342.6 563.8 L2344.2 563.8 L2345.8 563.8 L2347.3 563.8 L2348.9 563.8 L2350.5 563.8 L2352.1 563.8 L2353.7 563.8 L2355.3 563.8 L2356.9 563.8 L2358.5 563.8 L2360.1 563.8 L2361.7 563.8 L2363.3 563.8 L2364.9 563.8 L2366.5 563.8 L2368.1 563.8 L2369.7 563.8 L2371.3 563.8 L2372.9 563.8 L2374.5 563.8 L2376.1 563.8 L2377.7 563.8 L2379.3 563.8 L2380.9 563.8 L2382.4 563.8 L2384.0 563.8 L2385.6 563.8 L2387.2 563.8 L2388.8 563.8 L2390.4 563.8 L2392.0 563.8 L2393.6 563.8 L2395.2 563.8 L2396.8 563.8 L2398.4 563.8 L2400.0 563.8" fill="none" stroke="#000" stroke-width="3.3" stroke-linejoin="round" stroke-linecap="butt"/>
<path d="M1603.8 151.2 L1605.4 163.5 L1607.0 175.4 L1608.6 181.9 L1610.2 186.9 L1611.8 191.0 L1613.4 194.5 L1615.0 197.8 L1616.6 200.9 L1618.2 203.7 L1619.8 206.2 L1621.4 208.6 L1623.0 210.9 L1624.6 213.3 L1626.2 215.7 L1627.8 218.3 L1629.4 220.8 L1631.0 223.4 L1632.5 225.9 L1634.1 228.5 L1635.7 231.1 L1637.3 233.7 L1638.9 236.3 L1640.5 239.0 L1642.1 241.8 L1643.7 244.6 L1645.3 247.3 L1646.9 250.0 L1648.5 252.6 L1650.1 255.1 L1651.7 257.6 L1653.3 260.0 L1654.9 262.4 L1656.5 264.7 L1658.1 267.1 L1659.7 269.4 L1661.3 271.7 L1662.9 273.9 L1664.5 276.2 L1666.1 278.4 L1667.6 280.6 L1669.2 282.8 L1670.8 285.1 L1672.4 287.3 L1674.0 289.5 L1675.6 291.8 L1677.2 294.0 L1678.8 296.2 L1680.4 298.5 L1682.0 300.7 L1683.6 302.9 L1685.2 305.2 L1686.8 307.4 L1688.4 309.7 L1690.0 311.9 L1691.6 314.1 L1693.2 316.4 L1694.8 318.6 L1696.4 320.8 L1698.0 322.9 L1699.6 325.1 L1701.2 327.3 L1702.8 329.6 L1704.3 331.8 L1705.9 334.2 L1707.5 336.7 L1709.1 339.2 L1710.7 341.7 L1712.3 344.2 L1713.9 346.8 L1715.5 349.3 L1717.1 351.9 L1718.7 354.4 L1720.3 357.0 L1721.9 359.6 L1723.5 362.2 L1725.1 364.8 L1726.7 367.4 L1728.3 369.9 L1729.9 372.4 L1731.5 374.9 L1733.1 377.3 L1734.7 379.6 L1736.3 381.9 L1737.9 384.1 L1739.4 386.2 L1741.0 388.3 L1742.6 390.4 L1744.2 392.5 L1745.8 394.5 L1747.4 396.5 L1749.0 398.5 L1750.6 400.4 L1752.2 402.4 L1753.8 404.3 L1755.4 406.3 L1757.0 408.2 L1758.6 410.2 L1760.2 412.1 L1761.8 414.1 L1763.4 416.1 L1765.0 418.1 L1766.6 420.1 L1768.2 422.1 L1769.8 424.1 L1771.4 426.1 L1773.0 428.1 L1774.6 430.1 L1776.1 432.1 L1777.7 434.1 L1779.3 436.1 L1780.9 438.1 L1782.5 440.1 L1784.1 442.1 L1785.7 444.1 L1787.3 446.1 L1788.9 448.1 L1790.5 450.2 L1792.1 452.2 L1793.7 454.2 L1795.3 456.2 L1796.9 458.3 L1798.5 460.3 L1800.1 462.3 L1801.7 464.3 L1803.3 466.3 L1804.9 468.3 L1806.5 470.2 L1808.1 472.1 L1809.7 474.1 L1811.2 476.0 L1812.8 477.9 L1814.4 479.9 L1816.0 481.8 L1817.6 483.8 L1819.2 485.8 L1820.8 487.7 L1822.4 489.7 L1824.0 491.6 L1825.6 493.5 L1827.2 495.4 L1828.8 497.3 L1830.4 499.2 L1832.0 501.1 L1833.6 502.9 L1835.2 504.7 L1836.8 506.5 L1838.4 508.3 L1840.0 510.0 L1841.6 511.7 L1843.2 513.4 L1844.8 515.0 L1846.3 516.6 L1847.9 518.1 L1849.5 519.6 L1851.1 521.0 L1852.7 522.4 L1854.3 523.8 L1855.9 525.1 L1857.5 526.5 L1859.1 527.8 L1860.7 529.0 L1862.3 530.3 L1863.9 531.5 L1865.5 532.7 L1867.1 533.9 L1868.7 535.0 L1870.3 536.2 L1871.9 537.3 L1873.5 538.4 L1875.1 539.6 L1876.7 540.7 L1878.3 541.8 L1879.9 542.9 L1881.5 544.0 L1883.0 545.1 L1884.6 546.2 L1886.2 547.4 L1887.8 548.5 L1889.4 549.6 L1891.0 550.7 L1892.6 551.8 L1894.2 552.9 L1895.8 554.0 L1897.4 555.0 L1899.0 556.1 L1900.6 557.1 L1902.2 558.1 L1903.8 559.1 L1905.4 560.0 L1907.0 560.9 L1908.6 561.8 L1910.2 562.7 L1911.8 563.5 L1913.4 564.3 L1915.0 565.0 L1916.6 565.7 L1918.1 566.4 L1919.7 567.1 L1921.3 567.8 L1922.9 568.5 L1924.5 569.1 L1926.1 569.8 L1927.7 570.4 L1929.3 571.0 L1930.9 571.7 L1932.5 572.2 L1934.1 572.8 L1935.7 573.4 L1937.3 573.9 L1938.9 574.4 L1940.5 574.9 L1942.1 575.3 L1943.7 575.7 L1945.3 576.1 L1946.9 576.4 L1948.5 576.7 L1950.1 577.0 L1951.7 577.3 L1953.3 577.5 L1954.8 577.8 L1956.4 578.0 L1958.0 578.2 L1959.6 578.4 L1961.2 578.7 L1962.8 578.9 L1964.4 579.1 L1966.0 579.3 L1967.6 579.5 L1969.2 579.7 L1970.8 579.9 L1972.4 580.0 L1974.0 580.2 L1975.6 580.4 L1977.2 580.5 L1978.8 580.7 L1980.4 580.8 L1982.0 581.0 L1983.6 581.1 L1985.2 581.2 L1986.8 581.3 L1988.4 581.4 L1989.9 581.5 L1991.5 581.6 L1993.1 581.7 L1994.7 581.8 L1996.3 581.9 L1997.9 581.9 L1999.5 582.0 L2001.1 582.0 L2002.7 582.1 L2004.3 582.1 L2005.9 582.2 L2007.5 582.2 L2009.1 582.3 L2010.7 582.3 L2012.3 582.3 L2013.9 582.4 L2015.5 582.4 L2017.1 582.5 L2018.7 582.5 L2020.3 582.5 L2021.9 582.6 L2023.5 582.6 L2025.0 582.6 L2026.6 582.7 L2028.2 582.7 L2029.8 582.7 L2031.4 582.7 L2033.0 582.8 L2034.6 582.8 L2036.2 582.8 L2037.8 582.8 L2039.4 582.9 L2041.0 582.9 L2042.6 582.9 L2044.2 582.9 L2045.8 582.9 L2047.4 582.9 L2049.0 583.0 L2050.6 583.0 L2052.2 583.0 L2053.8 583.0 L2055.4 583.0 L2057.0 583.0 L2058.6 583.0 L2060.2 583.0 L2061.7 583.0 L2063.3 583.0 L2064.9 583.0 L2066.5 583.0 L2068.1 583.0 L2069.7 583.0 L2071.3 583.0 L2072.9 583.0 L2074.5 583.0 L2076.1 583.0 L2077.7 583.0 L2079.3 583.0 L2080.9 583.0 L2082.5 583.0 L2084.1 583.0 L2085.7 583.0 L2087.3 583.0 L2088.9 583.0 L2090.5 583.0 L2092.1 583.0 L2093.7 583.0 L2095.3 583.0 L2096.8 583.0 L2098.4 583.0 L2100.0 583.0 L2101.6 583.0 L2103.2 583.0 L2104.8 583.0 L2106.4 583.0 L2108.0 583.0 L2109.6 583.0 L2111.2 583.0 L2112.8 583.0 L2114.4 583.0 L2116.0 583.0 L2117.6 583.0 L2119.2 583.0 L2120.8 583.0 L2122.4 583.0 L2124.0 583.0 L2125.6 583.0 L2127.2 583.0 L2128.8 583.0 L2130.4 583.0 L2132.0 583.0 L2133.5 583.0 L2135.1 583.0 L2136.7 583.0 L2138.3 583.0 L2139.9 583.0 L2141.5 583.0 L2143.1 583.0 L2144.7 583.0 L2146.3 583.0 L2147.9 583.0 L2149.5 583.0 L2151.1 583.0 L2152.7 583.0 L2154.3 583.0 L2155.9 583.0 L2157.5 583.0 L2159.1 583.0 L2160.7 583.0 L2162.3 583.0 L2163.9 583.0 L2165.5 583.0 L2167.1 583.0 L2168.6 583.0 L2170.2 583.0 L2171.8 583.0 L2173.4 583.0 L2175.0 583.0 L2176.6 583.0 L2178.2 583.0 L2179.8 583.0 L2181.4 583.0 L2183.0 583.0 L2184.6 583.0 L2186.2 583.0 L2187.8 583.0 L2189.4 583.0 L2191.0 583.0 L2192.6 583.0 L2194.2 583.0 L2195.8 583.0 L2197.4 583.0 L2199.0 583.0 L2200.6 583.0 L2202.2 583.0 L2203.7 583.0 L2205.3 583.0 L2206.9 583.0 L2208.5 583.0 L2210.1 583.0 L2211.7 583.0 L2213.3 583.0 L2214.9 583.0 L2216.5 583.0 L2218.1 583.0 L2219.7 583.0 L2221.3 583.0 L2222.9 583.0 L2224.5 583.0 L2226.1 583.0 L2227.7 583.0 L2229.3 583.0 L2230.9 583.0 L2232.5 583.0 L2234.1 583.0 L2235.7 583.0 L2237.3 583.0 L2238.9 583.0 L2240.4 583.0 L2242.0 583.0 L2243.6 583.0 L2245.2 583.0 L2246.8 583.0 L2248.4 583.0 L2250.0 583.0 L2251.6 583.0 L2253.2 583.0 L2254.8 583.0 L2256.4 583.0 L2258.0 583.0 L2259.6 583.0 L2261.2 583.0 L2262.8 583.0 L2264.4 583.0 L2266.0 583.0 L2267.6 583.0 L2269.2 583.0 L2270.8 583.0 L2272.4 583.0 L2274.0 583.0 L2275.5 583.0 L2277.1 583.0 L2278.7 583.0 L2280.3 583.0 L2281.9 583.0 L2283.5 583.0 L2285.1 583.0 L2286.7 583.0 L2288.3 583.0 L2289.9 583.0 L2291.5 583.0 L2293.1 583.0 L2294.7 583.0 L2296.3 583.0 L2297.9 583.0 L2299.5 583.0 L2301.1 583.0 L2302.7 583.0 L2304.3 583.0 L2305.9 583.0 L2307.5 583.0 L2309.1 583.0 L2310.7 583.0 L2312.2 583.0 L2313.8 583.0 L2315.4 583.0 L2317.0 583.0 L2318.6 583.0 L2320.2 583.0 L2321.8 583.0 L2323.4 583.0 L2325.0 583.0 L2326.6 583.0 L2328.2 583.0 L2329.8 583.0 L2331.4 583.0 L2333.0 583.0 L2334.6 583.0 L2336.2 583.0 L2337.8 583.0 L2339.4 583.0 L2341.0 583.0 L2342.6 583.0 L2344.2 583.0 L2345.8 583.0 L2347.3 583.0 L2348.9 583.0 L2350.5 583.0 L2352.1 583.0 L2353.7 583.0 L2355.3 583.0 L2356.9 583.0 L2358.5 583.0 L2360.1 583.0 L2361.7 583.0 L2363.3 583.0 L2364.9 583.0 L2366.5 583.0 L2368.1 583.0 L2369.7 583.0 L2371.3 583.0 L2372.9 583.0 L2374.5 583.0 L2376.1 583.0 L2377.7 583.0 L2379.3 583.0 L2380.9 583.0 L2382.4 583.0 L2384.0 583.0 L2385.6 583.0 L2387.2 583.0 L2388.8 583.0 L2390.4 583.0 L2392.0 583.0 L2393.6 583.0 L2395.2 583.0 L2396.8 583.0 L2398.4 583.0 L2400.0 583.0" fill="none" stroke="#f00" stroke-width="3.3" stroke-linejoin="round" stroke-linecap="butt"/></svg>
</body></html>
